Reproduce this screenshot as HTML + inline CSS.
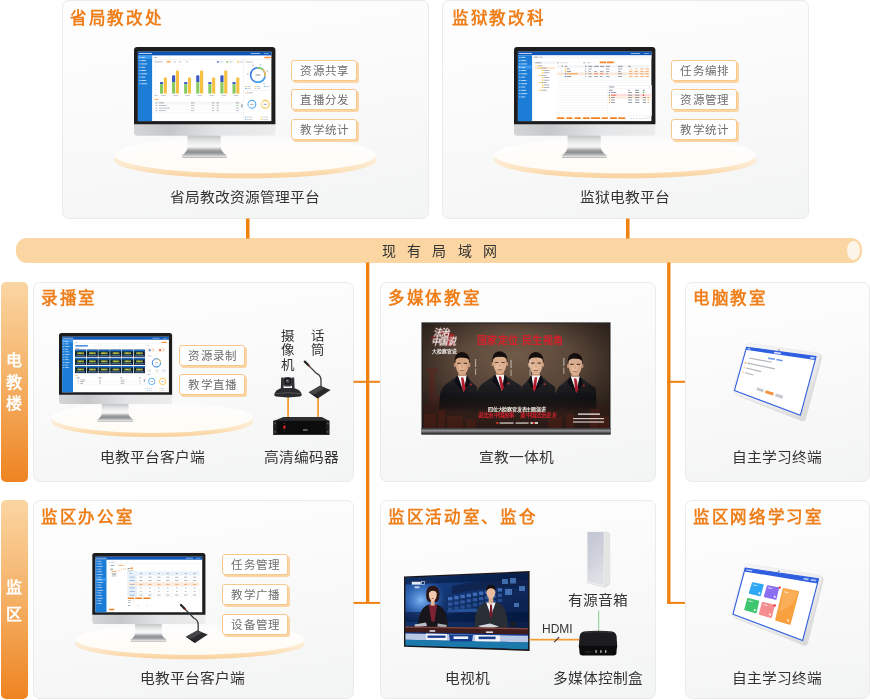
<!DOCTYPE html>
<html lang="zh-CN">
<head>
<meta charset="utf-8">
<title>电教平台网络拓扑图</title>
<style>
html,body{margin:0;padding:0;background:#fff;}
body{width:870px;height:700px;position:relative;overflow:hidden;font-family:"Liberation Sans",sans-serif;color:#333;}
.panel{position:absolute;box-sizing:border-box;border:1px solid #ebebeb;border-radius:7px;background:linear-gradient(170deg,#fefefe 0%,#fbfbfb 35%,#f3f4f4 100%);}
.title{position:absolute;font-size:16.5px;font-weight:bold;color:#ee7f1a;letter-spacing:1.7px;line-height:20px;white-space:nowrap;}
.lbl{position:absolute;font-size:14px;color:#333;line-height:18px;white-space:nowrap;text-align:center;transform:translateX(-50%) scaleX(1.055);letter-spacing:0.2px;padding-left:0.2px;}
.tag{position:absolute;box-sizing:border-box;width:66.3px;height:21.3px;border:1px solid #f8c78e;border-radius:3px;background:#fff;box-shadow:2px 2px 0 #fbd5a4;font-size:11.5px;line-height:21.6px;color:#6e6e6e;text-align:center;white-space:nowrap;letter-spacing:1.15px;padding-left:1.1px;}
.side{position:absolute;left:0.7px;width:26.9px;box-sizing:border-box;padding-top:1.2px;padding-right:0.6px;border-radius:5px;background:linear-gradient(180deg,#fad6a3 0%,#f5b46c 45%,#ee8420 100%);color:#fff;font-weight:bold;font-size:16px;text-align:center;display:flex;flex-direction:column;justify-content:center;align-items:center;}
.side span{display:block;}
.bar{position:absolute;left:15.5px;top:238.3px;width:846.3px;height:24.6px;border-radius:11px;background:#fbd6a2;}
.bar .cap{position:absolute;right:2px;top:2.4px;width:12.8px;height:19.6px;border-radius:50%;background:#fdf4e8;}
.bartxt{position:absolute;left:382.3px;top:240.6px;font-size:14px;line-height:20px;letter-spacing:11.2px;color:#333;white-space:nowrap;}
.vt{position:absolute;font-size:12.6px;line-height:14.3px;color:#333;width:14px;text-align:center;transform:scaleX(1.07);}
.hdmi{position:absolute;left:542px;top:622px;font-size:12px;line-height:14px;color:#333;}
svg{position:absolute;left:0;top:0;}
.title,.lbl,.tag,.side span,.bartxt,.vt,.hdmi,.tvt{will-change:transform;}
</style>
</head>
<body>
<div class="panel" style="left:62px;top:0px;width:366.6px;height:218.6px"></div>
<div class="panel" style="left:442px;top:0px;width:366.6px;height:218.6px"></div>
<div class="panel" style="left:33px;top:282px;width:321px;height:199.5px"></div>
<div class="panel" style="left:380px;top:282px;width:275.7px;height:199.5px"></div>
<div class="panel" style="left:685px;top:282px;width:184.5px;height:199.5px"></div>
<div class="panel" style="left:33px;top:500.3px;width:321px;height:199px"></div>
<div class="panel" style="left:380px;top:500.3px;width:275.7px;height:199px"></div>
<div class="panel" style="left:685px;top:500.3px;width:184.5px;height:199px"></div>
<div class="bar"><div class="cap"></div></div>
<div class="side" style="top:282px;height:199.5px;line-height:21.6px"><span>电</span><span>教</span><span>楼</span></div>
<div class="side" style="top:500.3px;height:199px;line-height:27.6px;padding-top:3.4px"><span>监</span><span>区</span></div>
<svg width="870" height="700" viewBox="0 0 870 700">
<defs>
<linearGradient id="chin" x1="0" y1="0" x2="1" y2="0">
 <stop offset="0" stop-color="#d4d5d6"/><stop offset="0.25" stop-color="#c6c7c9"/><stop offset="0.6" stop-color="#e4e5e6"/><stop offset="1" stop-color="#ececed"/>
</linearGradient>
<linearGradient id="neck" x1="0" y1="0" x2="0" y2="1">
 <stop offset="0" stop-color="#bdbec0"/><stop offset="0.45" stop-color="#e2e3e3"/><stop offset="0.85" stop-color="#f7f7f7"/><stop offset="1" stop-color="#eeeeee"/>
</linearGradient>
<linearGradient id="base" x1="0" y1="0" x2="0" y2="1">
 <stop offset="0" stop-color="#ececec"/><stop offset="0.28" stop-color="#a4a6a8"/><stop offset="0.48" stop-color="#8b8d90"/><stop offset="0.72" stop-color="#b4b6b7"/><stop offset="0.9" stop-color="#e6e6e6"/><stop offset="1" stop-color="#8f8f90"/>
</linearGradient>
<linearGradient id="platTop" x1="0" y1="0" x2="0" y2="1">
 <stop offset="0" stop-color="#ffffff" stop-opacity="0.35"/><stop offset="0.3" stop-color="#fffefd" stop-opacity="0.92"/><stop offset="1" stop-color="#fffcf6"/>
</linearGradient>
<linearGradient id="platRim" x1="0" y1="0" x2="0" y2="1">
 <stop offset="0" stop-color="#fdebd2" stop-opacity="0"/><stop offset="0.42" stop-color="#fde9cd" stop-opacity="0.9"/><stop offset="0.75" stop-color="#fce0ba"/><stop offset="1" stop-color="#fad29e"/>
</linearGradient>
<linearGradient id="platRimH" x1="0" y1="0" x2="1" y2="0">
 <stop offset="0" stop-color="#fff" stop-opacity="0.2"/><stop offset="0.2" stop-color="#fff" stop-opacity="0"/><stop offset="0.8" stop-color="#fff" stop-opacity="0"/><stop offset="1" stop-color="#fff" stop-opacity="0.2"/>
</linearGradient>
<filter id="b1" x="-10%" y="-10%" width="120%" height="120%"><feGaussianBlur stdDeviation="0.6"/></filter>
<filter id="b2" x="-10%" y="-10%" width="120%" height="120%"><feGaussianBlur stdDeviation="1.2"/></filter>
<filter id="b3" x="-20%" y="-20%" width="140%" height="140%"><feGaussianBlur stdDeviation="2.5"/></filter>
<radialGradient id="tv1bg" cx="0.5" cy="0.3" r="0.75">
 <stop offset="0" stop-color="#705a48"/><stop offset="0.5" stop-color="#574437"/><stop offset="1" stop-color="#3a2b23"/>
</radialGradient>
<linearGradient id="tv1bar" x1="0" y1="0" x2="0" y2="1">
 <stop offset="0" stop-color="#2a2a2c"/><stop offset="0.45" stop-color="#9a9a9c"/><stop offset="0.6" stop-color="#6a6a6c"/><stop offset="1" stop-color="#1c1c1e"/>
</linearGradient>
<linearGradient id="suit" gradientUnits="userSpaceOnUse" x1="0" y1="374" x2="0" y2="416">
 <stop offset="0" stop-color="#29292c"/><stop offset="0.45" stop-color="#19191b"/><stop offset="0.78" stop-color="#141416"/><stop offset="1" stop-color="#1c1412" stop-opacity="0"/>
</linearGradient>
<linearGradient id="tv1btm" gradientUnits="userSpaceOnUse" x1="0" y1="398" x2="0" y2="428">
 <stop offset="0" stop-color="#2a1a15" stop-opacity="0"/><stop offset="0.6" stop-color="#2e1c17" stop-opacity="0.75"/><stop offset="1" stop-color="#2a1915" stop-opacity="0.95"/>
</linearGradient>
<radialGradient id="tv1vig" cx="0.5" cy="0.42" r="0.72">
 <stop offset="0.45" stop-color="#000" stop-opacity="0"/><stop offset="1" stop-color="#000" stop-opacity="0.5"/>
</radialGradient>
<clipPath id="tv1clip"><rect x="422.6" y="323.5" width="187" height="104.6"/></clipPath>
<linearGradient id="tabBody" x1="0" y1="0" x2="1" y2="1">
 <stop offset="0" stop-color="#f7f7f7"/><stop offset="0.6" stop-color="#ececec"/><stop offset="1" stop-color="#d2d2d2"/>
</linearGradient>
<linearGradient id="tv2bg" x1="0" y1="0" x2="1" y2="1">
 <stop offset="0" stop-color="#1f4f9f"/><stop offset="0.35" stop-color="#12326c"/><stop offset="1" stop-color="#08173a"/>
</linearGradient>
<radialGradient id="tv2glow" cx="0.5" cy="0.5" r="0.5">
 <stop offset="0" stop-color="#86c0fb" stop-opacity="0.95"/><stop offset="0.5" stop-color="#4d8de0" stop-opacity="0.6"/><stop offset="1" stop-color="#2f6cc8" stop-opacity="0"/>
</radialGradient>
<clipPath id="tv2clip"><path d="M405.4 577.7 L528.2 572.6 L528.2 649.4 L405.4 645.4 Z"/></clipPath>
<linearGradient id="spk" x1="0" y1="0" x2="0.25" y2="1">
 <stop offset="0" stop-color="#c3c6d4"/><stop offset="0.55" stop-color="#cfd1db"/><stop offset="1" stop-color="#e0e1e6"/>
</linearGradient>
</defs>
<g fill="#f0830f">
<rect x="246" y="218.5" width="3.5" height="20"/>
<rect x="626" y="218.5" width="3.5" height="20"/>
<rect x="366" y="262.5" width="3.3" height="341"/>
<rect x="667.1" y="262.5" width="3.4" height="341"/>
<rect x="353.5" y="380.8" width="26.5" height="2"/>
<rect x="353.5" y="601.9" width="26.5" height="2"/>
<rect x="667.1" y="380.8" width="17.9" height="2"/>
<rect x="667.1" y="601.9" width="17.9" height="2"/>
</g>
<g>
<ellipse cx="245.4" cy="160" rx="131.3" ry="18.3" fill="url(#platRim)"/>
<ellipse cx="245.4" cy="160" rx="131.3" ry="18.3" fill="url(#platRimH)"/>
<ellipse cx="245.4" cy="155" rx="131" ry="18.3" fill="url(#platTop)"/>
</g>
<g>
<ellipse cx="625.4" cy="160" rx="131.3" ry="18.3" fill="url(#platRim)"/>
<ellipse cx="625.4" cy="160" rx="131.3" ry="18.3" fill="url(#platRimH)"/>
<ellipse cx="625.4" cy="155" rx="131" ry="18.3" fill="url(#platTop)"/>
</g>
<g>
<ellipse cx="152.2" cy="421.6" rx="100.7" ry="15.5" fill="url(#platRim)"/>
<ellipse cx="152.2" cy="421.6" rx="100.7" ry="15.5" fill="url(#platRimH)"/>
<ellipse cx="152.2" cy="417.4" rx="100.4" ry="15.5" fill="url(#platTop)"/>
</g>
<g>
<ellipse cx="190" cy="643.6" rx="114.9" ry="15.6" fill="url(#platRim)"/>
<ellipse cx="190" cy="643.6" rx="114.9" ry="15.6" fill="url(#platRimH)"/>
<ellipse cx="190" cy="639.2" rx="114.6" ry="15.6" fill="url(#platTop)"/>
</g>
<g transform="translate(134,46.9) scale(1)">
<rect x="53.5" y="88" width="33.3" height="12.6" fill="url(#neck)"/>
<path d="M53.5 100.3 L86.8 100.3 Q87.6 105.2 92.7 108.4 L92.7 110 Q92.7 110.9 91.5 110.9 L49.2 110.9 Q48 110.9 48 110 L48 108.4 Q52.8 105.2 53.5 100.3 Z" fill="url(#base)"/>
<path d="M0 70 H141.4 V85.4 Q141.4 88.9 137.9 88.9 H3.5 Q0 88.9 0 85.4 Z" fill="url(#chin)"/>
<path d="M3.2 0 H138.2 Q141.4 0 141.4 3.2 V77.3 H0 V3.2 Q0 0 3.2 0 Z" fill="#1d1d1f"/>
<g transform="translate(3.9,4.8)">
<rect x="0" y="0" width="133.5" height="69.4" fill="#fff"/>
<rect x="0" y="0" width="133.5" height="3.7" fill="#0b56b8"/>
<rect x="1" y="1.3" width="13" height="1" fill="#cfe2f8" opacity="0.9"/>
<rect x="113" y="1.4" width="9" height="0.9" fill="#cfe2f8" opacity="0.8"/>
<rect x="126" y="1.4" width="5" height="0.9" fill="#cfe2f8" opacity="0.6"/>
<rect x="0" y="3.7" width="14.2" height="65.7" fill="#1c7dd7"/>
<rect x="0" y="3.9" width="14.2" height="3.2" fill="#3d9af0"/>
<rect x="1.4" y="5.1" width="1.1" height="1.1" fill="#e6f1fd" opacity="0.9"/>
<rect x="3.3" y="5.2" width="4" height="0.9" fill="#e6f1fd" opacity="0.85"/>
<rect x="1.4" y="8.4" width="1.1" height="1.1" fill="#e6f1fd" opacity="0.9"/>
<rect x="3.3" y="8.5" width="5" height="0.9" fill="#e6f1fd" opacity="0.85"/>
<rect x="1.4" y="11.7" width="1.1" height="1.1" fill="#e6f1fd" opacity="0.9"/>
<rect x="3.3" y="11.8" width="6" height="0.9" fill="#e6f1fd" opacity="0.85"/>
<rect x="1.4" y="15" width="1.1" height="1.1" fill="#e6f1fd" opacity="0.9"/>
<rect x="3.3" y="15.1" width="4" height="0.9" fill="#e6f1fd" opacity="0.85"/>
<rect x="1.4" y="18.3" width="1.1" height="1.1" fill="#e6f1fd" opacity="0.9"/>
<rect x="3.3" y="18.4" width="5" height="0.9" fill="#e6f1fd" opacity="0.85"/>
<rect x="1.4" y="21.6" width="1.1" height="1.1" fill="#e6f1fd" opacity="0.9"/>
<rect x="3.3" y="21.7" width="6" height="0.9" fill="#e6f1fd" opacity="0.85"/>
<rect x="1.4" y="24.9" width="1.1" height="1.1" fill="#e6f1fd" opacity="0.9"/>
<rect x="3.3" y="25" width="4" height="0.9" fill="#e6f1fd" opacity="0.85"/>
<rect x="1.4" y="28.2" width="1.1" height="1.1" fill="#e6f1fd" opacity="0.9"/>
<rect x="3.3" y="28.3" width="5" height="0.9" fill="#e6f1fd" opacity="0.85"/>
<rect x="1.4" y="31.5" width="1.1" height="1.1" fill="#e6f1fd" opacity="0.9"/>
<rect x="3.3" y="31.6" width="6" height="0.9" fill="#e6f1fd" opacity="0.85"/>
<rect x="14.2" y="7.6" width="119.3" height="0.4" fill="#e3e6ea"/>
<rect x="16" y="5.3" width="3" height="0.8" fill="#9aa3ad"/>
<rect x="16.5" y="9.7" width="8" height="0.9" fill="#aab1b9"/>
<rect x="28.8" y="9.3" width="3.8" height="1.6" rx="0.5" fill="#f7a24a"/>
<rect x="35.5" y="9.7" width="2.6" height="0.9" fill="#c3c8ce"/>
<rect x="40.5" y="9.7" width="2.6" height="0.9" fill="#c3c8ce"/>
<rect x="48" y="9.7" width="2.6" height="0.9" fill="#c3c8ce"/>
<rect x="79.2" y="9.4" width="1.6" height="1.5" fill="#3a57c8"/>
<rect x="81.4" y="9.8" width="4.2" height="0.8" fill="#c3c8ce"/>
<rect x="88.5" y="9.4" width="1.6" height="1.5" fill="#7cc45a"/>
<rect x="90.7" y="9.8" width="4.2" height="0.8" fill="#c3c8ce"/>
<rect x="99.2" y="9.4" width="1.6" height="1.5" fill="#f7bf3d"/>
<rect x="101.4" y="9.8" width="4.2" height="0.8" fill="#c3c8ce"/>
<rect x="16.8" y="14.3" width="1" height="0.7" fill="#c9cdd2"/>
<rect x="16.8" y="18.9" width="1" height="0.7" fill="#c9cdd2"/>
<rect x="16.8" y="23.5" width="1" height="0.7" fill="#c9cdd2"/>
<rect x="16.8" y="28.1" width="1" height="0.7" fill="#c9cdd2"/>
<rect x="16.8" y="32.7" width="1" height="0.7" fill="#c9cdd2"/>
<rect x="16.8" y="37.3" width="1" height="0.7" fill="#c9cdd2"/>
<rect x="16.8" y="41.9" width="1" height="0.7" fill="#c9cdd2"/>
<rect x="22.1" y="30.4" width="3.1" height="2.2" fill="#3856c4"/>
<rect x="22.1" y="32.6" width="3.1" height="9.3" fill="#86c95f"/>
<rect x="25.9" y="25.9" width="3.1" height="16" fill="#f8c043"/>
<rect x="23.3" y="43.4" width="4.6" height="0.8" fill="#b8bec5"/>
<rect x="34.18" y="23.7" width="3.1" height="6.7" fill="#3856c4"/>
<rect x="34.18" y="30.4" width="3.1" height="11.5" fill="#86c95f"/>
<rect x="37.98" y="19" width="3.1" height="22.9" fill="#f8c043"/>
<rect x="35.38" y="43.4" width="4.6" height="0.8" fill="#b8bec5"/>
<rect x="46.26" y="30.4" width="3.1" height="2.2" fill="#3856c4"/>
<rect x="46.26" y="32.6" width="3.1" height="9.3" fill="#86c95f"/>
<rect x="50.06" y="25.9" width="3.1" height="16" fill="#f8c043"/>
<rect x="47.46" y="43.4" width="4.6" height="0.8" fill="#b8bec5"/>
<rect x="58.34" y="23.7" width="3.1" height="6.7" fill="#3856c4"/>
<rect x="58.34" y="30.4" width="3.1" height="11.5" fill="#86c95f"/>
<rect x="62.14" y="19" width="3.1" height="22.9" fill="#f8c043"/>
<rect x="59.54" y="43.4" width="4.6" height="0.8" fill="#b8bec5"/>
<rect x="70.42" y="30.4" width="3.1" height="2.2" fill="#3856c4"/>
<rect x="70.42" y="32.6" width="3.1" height="9.3" fill="#86c95f"/>
<rect x="74.22" y="25.9" width="3.1" height="16" fill="#f8c043"/>
<rect x="71.62" y="43.4" width="4.6" height="0.8" fill="#b8bec5"/>
<rect x="82.5" y="23.7" width="3.1" height="6.7" fill="#3856c4"/>
<rect x="82.5" y="30.4" width="3.1" height="11.5" fill="#86c95f"/>
<rect x="86.3" y="19" width="3.1" height="22.9" fill="#f8c043"/>
<rect x="83.7" y="43.4" width="4.6" height="0.8" fill="#b8bec5"/>
<rect x="94.58" y="30.4" width="3.1" height="2.2" fill="#3856c4"/>
<rect x="94.58" y="32.6" width="3.1" height="9.3" fill="#86c95f"/>
<rect x="98.38" y="25.9" width="3.1" height="16" fill="#f8c043"/>
<rect x="95.78" y="43.4" width="4.6" height="0.8" fill="#b8bec5"/>
<rect x="16.6" y="43.4" width="3.2" height="0.8" fill="#b8bec5"/>
<rect x="16.5" y="47.2" width="4" height="0.9" fill="#f3a24c"/>
<rect x="16.5" y="50" width="88" height="2.3" fill="#f4f6f8"/>
<rect x="17.5" y="50.8" width="2" height="0.8" fill="#8c949d" opacity="0.95"/>
<rect x="21" y="50.8" width="5" height="0.8" fill="#8c949d" opacity="0.95"/>
<rect x="53" y="50.8" width="3.5" height="0.8" fill="#8c949d" opacity="0.95"/>
<rect x="74" y="50.8" width="2.5" height="0.8" fill="#8c949d" opacity="0.95"/>
<rect x="78.5" y="50.8" width="2.5" height="0.8" fill="#8c949d" opacity="0.95"/>
<rect x="98" y="50.8" width="3" height="0.8" fill="#8c949d" opacity="0.95"/>
<rect x="16.5" y="52.5" width="88" height="0.3" fill="#e6e9ec"/>
<rect x="17.5" y="53.4" width="2" height="0.8" fill="#8c949d" opacity="0.7"/>
<rect x="21" y="53.4" width="8" height="0.8" fill="#8c949d" opacity="0.7"/>
<rect x="53" y="53.4" width="3.5" height="0.8" fill="#8c949d" opacity="0.7"/>
<rect x="74" y="53.4" width="2.5" height="0.8" fill="#8c949d" opacity="0.7"/>
<rect x="78.5" y="53.4" width="2.5" height="0.8" fill="#8c949d" opacity="0.7"/>
<rect x="98" y="53.4" width="3" height="0.8" fill="#7fcf6a" opacity="0.7"/>
<rect x="16.5" y="55.1" width="88" height="0.3" fill="#e6e9ec"/>
<rect x="17.5" y="56" width="2" height="0.8" fill="#8c949d" opacity="0.7"/>
<rect x="21" y="56" width="11" height="0.8" fill="#8c949d" opacity="0.7"/>
<rect x="53" y="56" width="3.5" height="0.8" fill="#8c949d" opacity="0.7"/>
<rect x="74" y="56" width="2.5" height="0.8" fill="#8c949d" opacity="0.7"/>
<rect x="78.5" y="56" width="2.5" height="0.8" fill="#8c949d" opacity="0.7"/>
<rect x="98" y="56" width="3" height="0.8" fill="#8c949d" opacity="0.7"/>
<rect x="16.5" y="57.7" width="88" height="0.3" fill="#e6e9ec"/>
<rect x="17.5" y="58.6" width="2" height="0.8" fill="#8c949d" opacity="0.7"/>
<rect x="21" y="58.6" width="7" height="0.8" fill="#8c949d" opacity="0.7"/>
<rect x="53" y="58.6" width="3.5" height="0.8" fill="#8c949d" opacity="0.7"/>
<rect x="74" y="58.6" width="2.5" height="0.8" fill="#8c949d" opacity="0.7"/>
<rect x="78.5" y="58.6" width="2.5" height="0.8" fill="#8c949d" opacity="0.7"/>
<rect x="98" y="58.6" width="3" height="0.8" fill="#8c949d" opacity="0.7"/>
<rect x="16.5" y="60.3" width="88" height="0.3" fill="#e6e9ec"/>
<rect x="103.6" y="52.5" width="0.8" height="3.4" fill="#555b62"/>
<rect x="105.1" y="8" width="0.4" height="61.4" fill="#e3e6ea"/>
<rect x="126.3" y="5.1" width="6.6" height="1.5" rx="0.4" fill="#f7913a"/>
<rect x="107.5" y="9.8" width="1" height="1" fill="#f7a24a"/><rect x="109" y="9.9" width="6" height="0.8" fill="#aab1b9"/>
<circle cx="120" cy="23.3" r="7.3" fill="none" stroke="#2f74e0" stroke-width="1.5"/>
<path d="M119.36 16.03 A7.3 7.3 0 0 1 125.16 18.14" fill="none" stroke="#8ed15c" stroke-width="1.5"/>
<path d="M125.16 18.14 A7.3 7.3 0 0 1 127.05 25.19" fill="none" stroke="#f8c645" stroke-width="1.5"/>
<path d="M127.05 25.19 A7.3 7.3 0 0 1 116.35 29.62" fill="none" stroke="#46a9f3" stroke-width="1.5"/>
<rect x="117.6" y="22.9" width="4.8" height="0.9" fill="#7d858e"/>
<rect x="114.2" y="12.8" width="1.6" height="1.6" fill="#b9bfc6" opacity="0.8"/>
<rect x="121.7" y="12.5" width="1.6" height="1.6" fill="#b9bfc6" opacity="0.8"/>
<rect x="128.6" y="18.6" width="1.6" height="1.6" fill="#b9bfc6" opacity="0.8"/>
<rect x="109" y="21.5" width="1.6" height="1.6" fill="#b9bfc6" opacity="0.8"/>
<rect x="125.4" y="31.2" width="1.6" height="1.6" fill="#b9bfc6" opacity="0.8"/>
<rect x="107.2" y="34.4" width="1.6" height="0.8" fill="#8ed15c"/><rect x="109.4" y="34.4" width="3.6" height="0.8" fill="#c3c8ce"/>
<rect x="116.6" y="34.4" width="1.6" height="0.8" fill="#f8c645"/><rect x="118.8" y="34.4" width="3.6" height="0.8" fill="#c3c8ce"/>
<rect x="126" y="34.4" width="1.6" height="0.8" fill="#46a9f3"/><rect x="128.2" y="34.4" width="3.6" height="0.8" fill="#c3c8ce"/>
<rect x="107.2" y="36.5" width="1.6" height="0.8" fill="#46a9f3"/><rect x="109.4" y="36.5" width="3.6" height="0.8" fill="#c3c8ce"/>
<rect x="116.6" y="36.5" width="1.6" height="0.8" fill="#c9ced4"/><rect x="118.8" y="36.5" width="3.6" height="0.8" fill="#c3c8ce"/>
<rect x="105.5" y="38.9" width="28" height="0.4" fill="#e3e6ea"/>
<rect x="107.5" y="40.7" width="1" height="1" fill="#f7a24a"/><rect x="109" y="40.8" width="6" height="0.8" fill="#aab1b9"/>
<circle cx="114" cy="52.6" r="3.9" fill="none" stroke="#4aa8f2" stroke-width="1.1"/>
<path d="M112.05 55.98 A3.9 3.9 0 0 1 110.34 51.27" fill="none" stroke="#bfe0fa" stroke-width="1.1"/>
<circle cx="127.4" cy="52.6" r="3.9" fill="none" stroke="#f7c546" stroke-width="1.1"/>
<path d="M124.02 54.55 A3.9 3.9 0 0 1 124.89 49.61" fill="none" stroke="#fbe5a8" stroke-width="1.1"/>
<rect x="112.4" y="52.2" width="3.2" height="0.8" fill="#8c949d"/><rect x="125.8" y="52.2" width="3.2" height="0.8" fill="#8c949d"/>
<rect x="107" y="65" width="1.4" height="0.8" fill="#46a9f3"/><rect x="109" y="65" width="5.5" height="0.8" fill="#c3c8ce"/>
<rect x="122.6" y="65" width="1.4" height="0.8" fill="#f8c645"/><rect x="124.6" y="65" width="5.5" height="0.8" fill="#c3c8ce"/>
<rect x="107" y="67.2" width="1.4" height="0.8" fill="#46a9f3"/><rect x="109" y="67.2" width="5.5" height="0.8" fill="#c3c8ce"/>
<rect x="122.6" y="67.2" width="1.4" height="0.8" fill="#f8c645"/><rect x="124.6" y="67.2" width="5.5" height="0.8" fill="#c3c8ce"/>
</g>
</g>
<g transform="translate(514,46.9) scale(1)">
<rect x="53.5" y="88" width="33.3" height="12.6" fill="url(#neck)"/>
<path d="M53.5 100.3 L86.8 100.3 Q87.6 105.2 92.7 108.4 L92.7 110 Q92.7 110.9 91.5 110.9 L49.2 110.9 Q48 110.9 48 110 L48 108.4 Q52.8 105.2 53.5 100.3 Z" fill="url(#base)"/>
<path d="M0 70 H141.4 V85.4 Q141.4 88.9 137.9 88.9 H3.5 Q0 88.9 0 85.4 Z" fill="url(#chin)"/>
<path d="M3.2 0 H138.2 Q141.4 0 141.4 3.2 V77.3 H0 V3.2 Q0 0 3.2 0 Z" fill="#1d1d1f"/>
<g transform="translate(3.9,4.8)">
<rect x="0" y="0" width="133.5" height="69.4" fill="#fff"/>
<rect x="0" y="0" width="133.5" height="3.7" fill="#0b56b8"/>
<rect x="1" y="1.3" width="13" height="1" fill="#cfe2f8" opacity="0.9"/>
<rect x="113" y="1.4" width="9" height="0.9" fill="#cfe2f8" opacity="0.8"/>
<rect x="126" y="1.4" width="5" height="0.9" fill="#cfe2f8" opacity="0.6"/>
<rect x="0" y="3.7" width="14.2" height="65.7" fill="#1c7dd7"/>
<rect x="0" y="13.8" width="14.2" height="3.2" fill="#3d9af0"/>
<rect x="1.4" y="5.1" width="1.1" height="1.1" fill="#e6f1fd" opacity="0.9"/>
<rect x="3.3" y="5.2" width="4" height="0.9" fill="#e6f1fd" opacity="0.85"/>
<rect x="1.4" y="8.4" width="1.1" height="1.1" fill="#e6f1fd" opacity="0.9"/>
<rect x="3.3" y="8.5" width="5" height="0.9" fill="#e6f1fd" opacity="0.85"/>
<rect x="1.4" y="11.7" width="1.1" height="1.1" fill="#e6f1fd" opacity="0.9"/>
<rect x="3.3" y="11.8" width="6" height="0.9" fill="#e6f1fd" opacity="0.85"/>
<rect x="1.4" y="15" width="1.1" height="1.1" fill="#e6f1fd" opacity="0.9"/>
<rect x="3.3" y="15.1" width="4" height="0.9" fill="#e6f1fd" opacity="0.85"/>
<rect x="1.4" y="18.3" width="1.1" height="1.1" fill="#e6f1fd" opacity="0.9"/>
<rect x="3.3" y="18.4" width="5" height="0.9" fill="#e6f1fd" opacity="0.85"/>
<rect x="1.4" y="21.6" width="1.1" height="1.1" fill="#e6f1fd" opacity="0.9"/>
<rect x="3.3" y="21.7" width="6" height="0.9" fill="#e6f1fd" opacity="0.85"/>
<rect x="1.4" y="24.9" width="1.1" height="1.1" fill="#e6f1fd" opacity="0.9"/>
<rect x="3.3" y="25" width="4" height="0.9" fill="#e6f1fd" opacity="0.85"/>
<rect x="1.4" y="28.2" width="1.1" height="1.1" fill="#e6f1fd" opacity="0.9"/>
<rect x="3.3" y="28.3" width="5" height="0.9" fill="#e6f1fd" opacity="0.85"/>
<rect x="1.4" y="31.5" width="1.1" height="1.1" fill="#e6f1fd" opacity="0.9"/>
<rect x="3.3" y="31.6" width="6" height="0.9" fill="#e6f1fd" opacity="0.85"/>
<rect x="1.4" y="34.8" width="1.1" height="1.1" fill="#e6f1fd" opacity="0.9"/>
<rect x="3.3" y="34.9" width="4" height="0.9" fill="#e6f1fd" opacity="0.85"/>
<rect x="1.4" y="38.1" width="1.1" height="1.1" fill="#e6f1fd" opacity="0.9"/>
<rect x="3.3" y="38.2" width="5" height="0.9" fill="#e6f1fd" opacity="0.85"/>
<rect x="1.4" y="41.4" width="1.1" height="1.1" fill="#e6f1fd" opacity="0.9"/>
<rect x="3.3" y="41.5" width="6" height="0.9" fill="#e6f1fd" opacity="0.85"/>
<rect x="1.4" y="44.7" width="1.1" height="1.1" fill="#e6f1fd" opacity="0.9"/>
<rect x="3.3" y="44.8" width="4" height="0.9" fill="#e6f1fd" opacity="0.85"/>
<rect x="14.2" y="3.7" width="119.3" height="3.4" fill="#f7f8fa"/>
<rect x="16" y="5" width="4" height="0.8" fill="#8c949d"/><rect x="21" y="5" width="4" height="0.8" fill="#b4bac1"/>
<rect x="16.2379" y="9.85172" width="21.0345" height="2.2" fill="#f1f3f5"/>
<rect x="17.4448" y="10.7138" width="6" height="0.8" fill="#8c949d"/>
<rect x="16.5828" y="15.369" width="20.6897" height="2.1" fill="#fde6cf"/>
<rect x="19.169" y="13.5621" width="1.5" height="1.2" fill="#f6c231"/>
<rect x="21.169" y="13.7621" width="3.5" height="0.8" fill="#9aa1a9"/>
<rect x="17.569" y="13.8621" width="0.7" height="0.7" fill="#f08a2c"/>
<rect x="22.2724" y="15.8034" width="1.5" height="1.2" fill="#f6c231"/>
<rect x="24.2724" y="16.0034" width="4.5" height="0.8" fill="#9aa1a9"/>
<rect x="20.6724" y="16.1034" width="0.7" height="0.7" fill="#f08a2c"/>
<rect x="23.9966" y="18.2172" width="1.5" height="1.2" fill="#f6c231"/>
<rect x="25.9966" y="18.4172" width="5.5" height="0.8" fill="#9aa1a9"/>
<rect x="23.9966" y="20.4586" width="1.5" height="1.2" fill="#f6c231"/>
<rect x="25.9966" y="20.6586" width="5.5" height="0.8" fill="#9aa1a9"/>
<rect x="22.2724" y="23.0448" width="1.5" height="1.2" fill="#f6c231"/>
<rect x="24.2724" y="23.2448" width="4.5" height="0.8" fill="#9aa1a9"/>
<rect x="20.6724" y="23.3448" width="0.7" height="0.7" fill="#f08a2c"/>
<rect x="23.9966" y="25.2862" width="1.5" height="1.2" fill="#f6c231"/>
<rect x="25.9966" y="25.4862" width="5.5" height="0.8" fill="#9aa1a9"/>
<rect x="23.9966" y="27.8724" width="1.5" height="1.2" fill="#f6c231"/>
<rect x="25.9966" y="28.0724" width="5.5" height="0.8" fill="#9aa1a9"/>
<rect x="22.2724" y="30.2862" width="1.5" height="1.2" fill="#f6c231"/>
<rect x="24.2724" y="30.4862" width="4.5" height="0.8" fill="#9aa1a9"/>
<rect x="20.6724" y="30.5862" width="0.7" height="0.7" fill="#f08a2c"/>
<rect x="23.9966" y="32.7" width="1.5" height="1.2" fill="#f6c231"/>
<rect x="25.9966" y="32.9" width="5.5" height="0.8" fill="#9aa1a9"/>
<rect x="23.9966" y="35.1138" width="1.5" height="1.2" fill="#f6c231"/>
<rect x="25.9966" y="35.3138" width="5.5" height="0.8" fill="#9aa1a9"/>
<rect x="22.2724" y="37.8724" width="1.5" height="1.2" fill="#f6c231"/>
<rect x="24.2724" y="38.0724" width="4.5" height="0.8" fill="#9aa1a9"/>
<rect x="20.6724" y="38.1724" width="0.7" height="0.7" fill="#f08a2c"/>
<rect x="38.9966" y="10.7138" width="2" height="0.8" fill="#8c949d"/><rect x="42.4448" y="10.7138" width="8" height="0.8" fill="#d0d4d9"/>
<rect x="65.3759" y="10.7138" width="2" height="0.8" fill="#8c949d"/><rect x="69.3414" y="10.7138" width="3" height="0.8" fill="#b4bac1"/>
<rect x="81.7552" y="9.67931" width="6.55172" height="1.9" rx="0.4" fill="#f58220"/>
<rect x="88.9966" y="9.67931" width="6.89655" height="1.9" rx="0.4" fill="#f58220"/>
<rect x="38.9966" y="13.3" width="92.4138" height="2.4" fill="#f3f5f7"/>
<rect x="43.4793" y="14.1621" width="1.37931" height="0.8" fill="#6f7780"/>
<rect x="46.9276" y="14.1621" width="2.41379" height="0.8" fill="#6f7780"/>
<rect x="67.1" y="14.1621" width="1.72414" height="0.8" fill="#6f7780"/>
<rect x="70.5483" y="14.1621" width="3.7931" height="0.8" fill="#6f7780"/>
<rect x="76.2379" y="14.1621" width="4.48276" height="0.8" fill="#6f7780"/>
<rect x="82.1" y="14.1621" width="4.13793" height="0.8" fill="#6f7780"/>
<rect x="87.9621" y="14.1621" width="4.13793" height="0.8" fill="#6f7780"/>
<rect x="100.031" y="14.1621" width="4.82759" height="0.8" fill="#6f7780"/>
<rect x="110.376" y="14.1621" width="2.41379" height="0.8" fill="#6f7780"/>
<rect x="43.4793" y="16.9655" width="0.6" height="0.6" fill="#b4bac1"/>
<rect x="46.9276" y="16.7155" width="1.5" height="1.1" fill="#f6c231"/>
<rect x="48.9966" y="16.8655" width="3" height="0.8" fill="#7d858e"/>
<rect x="67.1" y="16.8655" width="0.844828" height="0.8" fill="#7d858e" opacity="0.85"/>
<rect x="70.5483" y="16.8655" width="3.27586" height="0.8" fill="#7d858e" opacity="0.85"/>
<rect x="87.9621" y="16.8655" width="3.62069" height="0.8" fill="#7d858e" opacity="0.85"/>
<rect x="100.031" y="16.8655" width="4.31034" height="0.8" fill="#7d858e" opacity="0.85"/>
<rect x="111.066" y="16.8655" width="3.6" height="0.8" fill="#f39a4d" opacity="0.55"/>
<rect x="116.583" y="16.8655" width="3.6" height="0.8" fill="#f39a4d" opacity="0.55"/>
<rect x="122.272" y="16.8655" width="3.6" height="0.8" fill="#f39a4d" opacity="0.95"/>
<rect x="127.445" y="16.8655" width="3.6" height="0.8" fill="#f39a4d" opacity="0.95"/>
<rect x="43.4793" y="19.3793" width="0.6" height="0.6" fill="#b4bac1"/>
<rect x="46.9276" y="19.1293" width="1.5" height="1.1" fill="#f6c231"/>
<rect x="48.9966" y="19.2793" width="4.2" height="0.8" fill="#7d858e"/>
<rect x="67.1" y="19.2793" width="1.2069" height="0.8" fill="#7d858e" opacity="0.85"/>
<rect x="70.5483" y="19.2793" width="2.2931" height="0.8" fill="#7d858e" opacity="0.85"/>
<rect x="76.2379" y="19.2793" width="2.77586" height="0.8" fill="#7d858e" opacity="0.85"/>
<rect x="82.1" y="19.2793" width="3.62069" height="0.8" fill="#7d858e" opacity="0.85"/>
<rect x="87.9621" y="19.2793" width="3.62069" height="0.8" fill="#7d858e" opacity="0.85"/>
<rect x="100.031" y="19.2793" width="3.01724" height="0.8" fill="#7d858e" opacity="0.85"/>
<rect x="111.066" y="19.2793" width="3.6" height="0.8" fill="#f39a4d" opacity="0.95"/>
<rect x="116.583" y="19.2793" width="3.6" height="0.8" fill="#f39a4d" opacity="0.95"/>
<rect x="122.272" y="19.2793" width="3.6" height="0.8" fill="#f39a4d" opacity="0.95"/>
<rect x="127.445" y="19.2793" width="3.6" height="0.8" fill="#f39a4d" opacity="0.95"/>
<rect x="38.9966" y="20.8931" width="92.4138" height="2.4" fill="#fde9d6"/>
<rect x="43.4793" y="21.7931" width="0.6" height="0.6" fill="#b4bac1"/>
<rect x="46.9276" y="21.5431" width="1.5" height="1.1" fill="#5e7be0"/>
<rect x="48.9966" y="21.6931" width="11" height="0.8" fill="#f08a2c"/>
<rect x="67.1" y="21.6931" width="1.2069" height="0.8" fill="#7d858e" opacity="0.85"/>
<rect x="70.5483" y="21.6931" width="3.27586" height="0.8" fill="#7d858e" opacity="0.85"/>
<rect x="76.2379" y="21.6931" width="3.96552" height="0.8" fill="#e8563a" opacity="0.85"/>
<rect x="82.1" y="21.6931" width="3.62069" height="0.8" fill="#e8563a" opacity="0.85"/>
<rect x="87.9621" y="21.6931" width="2.53448" height="0.8" fill="#7d858e" opacity="0.85"/>
<rect x="100.031" y="21.6931" width="4.31034" height="0.8" fill="#7d858e" opacity="0.85"/>
<rect x="111.066" y="21.6931" width="3.6" height="0.8" fill="#f39a4d" opacity="0.95"/>
<rect x="116.583" y="21.6931" width="3.6" height="0.8" fill="#f39a4d" opacity="0.95"/>
<rect x="122.272" y="21.6931" width="3.6" height="0.8" fill="#f39a4d" opacity="0.95"/>
<rect x="127.445" y="21.6931" width="3.6" height="0.8" fill="#f39a4d" opacity="0.95"/>
<rect x="43.4793" y="24.3793" width="0.6" height="0.6" fill="#b4bac1"/>
<rect x="46.9276" y="24.1293" width="1.5" height="1.1" fill="#5e7be0"/>
<rect x="48.9966" y="24.2793" width="4.2" height="0.8" fill="#7d858e"/>
<rect x="67.1" y="24.2793" width="0.844828" height="0.8" fill="#7d858e" opacity="0.85"/>
<rect x="70.5483" y="24.2793" width="3.27586" height="0.8" fill="#7d858e" opacity="0.85"/>
<rect x="76.2379" y="24.2793" width="3.96552" height="0.8" fill="#7d858e" opacity="0.85"/>
<rect x="82.1" y="24.2793" width="2.53448" height="0.8" fill="#7d858e" opacity="0.85"/>
<rect x="87.9621" y="24.2793" width="3.62069" height="0.8" fill="#7d858e" opacity="0.85"/>
<rect x="100.031" y="24.2793" width="4.31034" height="0.8" fill="#7d858e" opacity="0.85"/>
<rect x="111.066" y="24.2793" width="3.6" height="0.8" fill="#f39a4d" opacity="0.95"/>
<rect x="116.583" y="24.2793" width="3.6" height="0.8" fill="#f39a4d" opacity="0.95"/>
<rect x="122.272" y="24.2793" width="3.6" height="0.8" fill="#f39a4d" opacity="0.95"/>
<rect x="127.445" y="24.2793" width="3.6" height="0.8" fill="#f39a4d" opacity="0.95"/>
<rect x="38.9966" y="15.8862" width="92.4138" height="0.3" fill="#e8eaed"/>
<rect x="38.9966" y="18.3862" width="92.4138" height="0.3" fill="#e8eaed"/>
<rect x="38.9966" y="20.8862" width="92.4138" height="0.3" fill="#e8eaed"/>
<rect x="38.9966" y="23.3862" width="92.4138" height="0.3" fill="#e8eaed"/>
<rect x="38.9966" y="25.8862" width="92.4138" height="0.3" fill="#e8eaed"/>
<rect x="38.9966" y="28.3862" width="92.4138" height="0.3" fill="#e8eaed"/>
<rect x="38.9966" y="30.8862" width="92.4138" height="0.3" fill="#e8eaed"/>
<rect x="38.9966" y="33.3862" width="92.4138" height="0.3" fill="#e8eaed"/>
<rect x="38.9966" y="35.8862" width="92.4138" height="0.3" fill="#e8eaed"/>
<rect x="38.9966" y="38.3862" width="92.4138" height="0.3" fill="#e8eaed"/>
<rect x="38.9966" y="40.8862" width="92.4138" height="0.3" fill="#e8eaed"/>
<rect x="38.9966" y="43.3862" width="92.4138" height="0.3" fill="#e8eaed"/>
<rect x="38.9966" y="45.8862" width="92.4138" height="0.3" fill="#e8eaed"/>
<rect x="38.9966" y="48.3862" width="92.4138" height="0.3" fill="#e8eaed"/>
<rect x="38.9966" y="50.8862" width="92.4138" height="0.3" fill="#e8eaed"/>
<rect x="38.9966" y="53.3862" width="92.4138" height="0.3" fill="#e8eaed"/>
<rect x="38.9966" y="55.8862" width="92.4138" height="0.3" fill="#e8eaed"/>
<rect x="38.9966" y="58.3862" width="92.4138" height="0.3" fill="#e8eaed"/>
<rect x="38.9966" y="60.8862" width="92.4138" height="0.3" fill="#e8eaed"/>
<rect x="38.9966" y="63.3862" width="92.4138" height="0.3" fill="#e8eaed"/>
<rect x="90.031" y="33.4724" width="43.7931" height="30.6897" fill="#fff" stroke="#dfe3e7" stroke-width="0.3"/>
<rect x="91.2379" y="34.8517" width="5" height="0.8" fill="#6f7780"/><rect x="130.893" y="34.8517" width="0.8" height="0.8" fill="#9aa1a9"/>
<rect x="90.031" y="36.4034" width="43.7931" height="0.3" fill="#e3e6ea"/>
<rect x="91.2379" y="38.1276" width="3.44828" height="0.8" fill="#6f7780"/>
<rect x="110.203" y="38.1276" width="1.72414" height="0.8" fill="#6f7780"/>
<rect x="117.1" y="38.1276" width="4.13793" height="0.8" fill="#6f7780"/>
<rect x="124.859" y="38.1276" width="2.06897" height="0.8" fill="#6f7780"/>
<circle cx="91.5828" cy="40.7138" r="0.55" fill="#4c6fe8"/>
<rect x="93.1345" y="40.3138" width="5.2" height="0.8" fill="#7d858e"/>
<rect x="110.203" y="40.3138" width="4" height="0.8" fill="#7d858e"/><rect x="117.1" y="40.3138" width="4.4" height="0.8" fill="#7d858e"/>
<rect x="124.859" y="40.0638" width="1.3" height="1.3" fill="#35c14a"/>
<rect x="90.031" y="42.3724" width="43.7931" height="2.2" fill="#fcdcdc"/>
<circle cx="91.5828" cy="43.4724" r="0.55" fill="#45c46a"/>
<rect x="93.1345" y="43.0724" width="5.2" height="0.8" fill="#e8563a"/>
<rect x="110.203" y="43.0724" width="4" height="0.8" fill="#7d858e"/><rect x="117.1" y="43.0724" width="4.4" height="0.8" fill="#7d858e"/>
<rect x="124.859" y="42.8224" width="1.3" height="1.3" fill="#e8232a"/>
<rect x="90.031" y="44.7862" width="43.7931" height="2.2" fill="#fdecdc"/>
<circle cx="91.5828" cy="45.8862" r="0.55" fill="#f58220"/>
<rect x="93.1345" y="45.4862" width="3.8" height="0.8" fill="#7d858e"/>
<rect x="110.203" y="45.4862" width="4" height="0.8" fill="#7d858e"/><rect x="117.1" y="45.4862" width="4.4" height="0.8" fill="#7d858e"/>
<rect x="124.859" y="45.4862" width="3.2" height="0.8" fill="#7d858e"/><rect x="129.686" y="45.4862" width="1.5" height="0.8" fill="#f39a4d"/>
<circle cx="91.5828" cy="48.3" r="0.55" fill="#f58220"/>
<rect x="93.1345" y="47.9" width="3.8" height="0.8" fill="#7d858e"/>
<rect x="110.203" y="47.9" width="4" height="0.8" fill="#7d858e"/><rect x="117.1" y="47.9" width="4.4" height="0.8" fill="#7d858e"/>
<rect x="124.859" y="47.9" width="3.2" height="0.8" fill="#7d858e"/><rect x="129.686" y="47.9" width="1.5" height="0.8" fill="#f39a4d"/>
<circle cx="91.5828" cy="50.7138" r="0.55" fill="#f58220"/>
<rect x="93.1345" y="50.3138" width="3.8" height="0.8" fill="#7d858e"/>
<rect x="110.203" y="50.3138" width="4" height="0.8" fill="#7d858e"/><rect x="117.1" y="50.3138" width="4.4" height="0.8" fill="#7d858e"/>
<rect x="124.859" y="50.3138" width="3.2" height="0.8" fill="#7d858e"/><rect x="129.686" y="50.3138" width="1.5" height="0.8" fill="#f39a4d"/>
<rect x="38.9966" y="65.5414" width="7.41379" height="1.8" rx="0.3" fill="#f58220"/>
<rect x="48.4793" y="65.5414" width="6.03448" height="1.8" rx="0.3" fill="#f58220"/>
<rect x="56.7552" y="65.5414" width="6.03448" height="1.8" rx="0.3" fill="#f58220"/>
<rect x="65.031" y="65.5414" width="6.72414" height="1.8" rx="0.3" fill="#f58220"/>
<rect x="73.1345" y="65.5414" width="8.96552" height="1.8" rx="0.3" fill="#f58220"/>
<rect x="83.8241" y="65.5414" width="6.2069" height="1.8" rx="0.3" fill="#f58220"/>
<rect x="92.1" y="65.5414" width="6.89655" height="1.8" rx="0.3" fill="#f58220"/>
<rect x="100.376" y="65.5414" width="6.89655" height="1.8" rx="0.3" fill="#f58220"/>
<rect x="112.79" y="66.231" width="1.2" height="0.8" fill="#b4bac1"/>
<rect x="115.376" y="66.231" width="1.2" height="0.8" fill="#b4bac1"/>
<rect x="118.479" y="66.231" width="1.2" height="0.8" fill="#b4bac1"/>
<rect x="121.41" y="66.231" width="1.2" height="0.8" fill="#b4bac1"/>
<rect x="123.997" y="66.231" width="1.2" height="0.8" fill="#b4bac1"/>
<rect x="126.583" y="66.231" width="1.2" height="0.8" fill="#b4bac1"/>
<rect x="129.341" y="65.7138" width="2" height="1.3" fill="none" stroke="#b4bac1" stroke-width="0.3"/>
</g>
</g>
<g transform="translate(59,332.9) scale(0.8)">
<rect x="53.5" y="88" width="33.3" height="12.6" fill="url(#neck)"/>
<path d="M53.5 100.3 L86.8 100.3 Q87.6 105.2 92.7 108.4 L92.7 110 Q92.7 110.9 91.5 110.9 L49.2 110.9 Q48 110.9 48 110 L48 108.4 Q52.8 105.2 53.5 100.3 Z" fill="url(#base)"/>
<path d="M0 70 H141.4 V85.4 Q141.4 88.9 137.9 88.9 H3.5 Q0 88.9 0 85.4 Z" fill="url(#chin)"/>
<path d="M3.2 0 H138.2 Q141.4 0 141.4 3.2 V77.3 H0 V3.2 Q0 0 3.2 0 Z" fill="#1d1d1f"/>
<g transform="translate(3.9,4.8)">
<rect x="0" y="0" width="133.5" height="69.4" fill="#fff"/>
<rect x="0" y="0" width="133.5" height="3.7" fill="#0b56b8"/>
<rect x="1" y="1.3" width="13" height="1" fill="#cfe2f8" opacity="0.9"/>
<rect x="113" y="1.4" width="9" height="0.9" fill="#cfe2f8" opacity="0.8"/>
<rect x="126" y="1.4" width="5" height="0.9" fill="#cfe2f8" opacity="0.6"/>
<rect x="0" y="3.7" width="13.6" height="65.7" fill="#1c7dd7"/>
<rect x="0" y="3.9" width="13.6" height="3.2" fill="#3d9af0"/>
<rect x="1.4" y="5.1" width="1.1" height="1.1" fill="#e6f1fd" opacity="0.9"/>
<rect x="3.3" y="5.2" width="4" height="0.9" fill="#e6f1fd" opacity="0.85"/>
<rect x="1.4" y="8.4" width="1.1" height="1.1" fill="#e6f1fd" opacity="0.9"/>
<rect x="3.3" y="8.5" width="5" height="0.9" fill="#e6f1fd" opacity="0.85"/>
<rect x="1.4" y="11.7" width="1.1" height="1.1" fill="#e6f1fd" opacity="0.9"/>
<rect x="3.3" y="11.8" width="6" height="0.9" fill="#e6f1fd" opacity="0.85"/>
<rect x="1.4" y="15" width="1.1" height="1.1" fill="#e6f1fd" opacity="0.9"/>
<rect x="3.3" y="15.1" width="4" height="0.9" fill="#e6f1fd" opacity="0.85"/>
<rect x="1.4" y="18.3" width="1.1" height="1.1" fill="#e6f1fd" opacity="0.9"/>
<rect x="3.3" y="18.4" width="5" height="0.9" fill="#e6f1fd" opacity="0.85"/>
<rect x="1.4" y="21.6" width="1.1" height="1.1" fill="#e6f1fd" opacity="0.9"/>
<rect x="3.3" y="21.7" width="6" height="0.9" fill="#e6f1fd" opacity="0.85"/>
<rect x="1.4" y="24.9" width="1.1" height="1.1" fill="#e6f1fd" opacity="0.9"/>
<rect x="3.3" y="25" width="4" height="0.9" fill="#e6f1fd" opacity="0.85"/>
<rect x="1.4" y="28.2" width="1.1" height="1.1" fill="#e6f1fd" opacity="0.9"/>
<rect x="3.3" y="28.3" width="5" height="0.9" fill="#e6f1fd" opacity="0.85"/>
<rect x="1.4" y="31.5" width="1.1" height="1.1" fill="#e6f1fd" opacity="0.9"/>
<rect x="3.3" y="31.6" width="6" height="0.9" fill="#e6f1fd" opacity="0.85"/>
<rect x="1.4" y="34.8" width="1.1" height="1.1" fill="#e6f1fd" opacity="0.9"/>
<rect x="3.3" y="34.9" width="4" height="0.9" fill="#e6f1fd" opacity="0.85"/>
<rect x="1.4" y="38.1" width="1.1" height="1.1" fill="#e6f1fd" opacity="0.9"/>
<rect x="3.3" y="38.2" width="5" height="0.9" fill="#e6f1fd" opacity="0.85"/>
<rect x="16.6607" y="6.74107" width="2" height="0.8" fill="#9aa3ad"/>
<rect x="13.6" y="8.70536" width="120" height="0.35" fill="#e3e6ea"/>
<rect x="16.4821" y="10.4911" width="15.7143" height="1.7" rx="0.3" fill="#1a76d2"/>
<rect x="39.6964" y="11.2054" width="2.2" height="0.8" fill="#c9d9ee"/>
<rect x="47.375" y="11.2054" width="2.2" height="0.8" fill="#c9d9ee"/>
<rect x="55.4107" y="11.2054" width="2.2" height="0.8" fill="#c9d9ee"/>
<rect x="63.4464" y="11.2054" width="2.2" height="0.8" fill="#c9d9ee"/>
<rect x="70.9464" y="11.2054" width="2.2" height="0.8" fill="#c9d9ee"/>
<rect x="79.1607" y="11.2054" width="2.2" height="0.8" fill="#c9d9ee"/>
<rect x="16.4821" y="14.4196" width="5" height="0.8" fill="#9aa3ad"/>
<rect x="16.125" y="16.2054" width="13.75" height="8.92857" fill="#0b1a33"/>
<rect x="16.125" y="16.2054" width="13.75" height="2.14286" fill="#1d6abb"/>
<rect x="16.125" y="18.3482" width="1.65" height="4.46429" fill="#14472f" opacity="0.8"/>
<rect x="17.5" y="22.6339" width="11" height="1.78571" fill="#55779a" opacity="0.85"/>
<rect x="18.875" y="19.4196" width="8.525" height="2.41071" fill="#a5ad3a" opacity="0.95"/>
<rect x="20.8" y="19.9554" width="2.75" height="1.25" fill="#d3d85a" opacity="0.8"/>
<rect x="30.8393" y="16.2054" width="13.75" height="8.92857" fill="#0b1a33"/>
<rect x="30.8393" y="16.2054" width="13.75" height="2.14286" fill="#1d6abb"/>
<rect x="30.8393" y="18.3482" width="1.65" height="4.46429" fill="#14472f" opacity="0.8"/>
<rect x="32.2143" y="22.6339" width="11" height="1.78571" fill="#55779a" opacity="0.85"/>
<rect x="33.5893" y="19.4196" width="8.525" height="2.41071" fill="#a5ad3a" opacity="0.95"/>
<rect x="35.5143" y="19.9554" width="2.75" height="1.25" fill="#d3d85a" opacity="0.8"/>
<rect x="45.5536" y="16.2054" width="13.75" height="8.92857" fill="#0b1a33"/>
<rect x="45.5536" y="16.2054" width="13.75" height="2.14286" fill="#1d6abb"/>
<rect x="45.5536" y="18.3482" width="1.65" height="4.46429" fill="#14472f" opacity="0.8"/>
<rect x="46.9286" y="22.6339" width="11" height="1.78571" fill="#55779a" opacity="0.85"/>
<rect x="48.3036" y="19.4196" width="8.525" height="2.41071" fill="#a5ad3a" opacity="0.95"/>
<rect x="50.2286" y="19.9554" width="2.75" height="1.25" fill="#d3d85a" opacity="0.8"/>
<rect x="60.2679" y="16.2054" width="13.75" height="8.92857" fill="#0b1a33"/>
<rect x="60.2679" y="16.2054" width="13.75" height="2.14286" fill="#1d6abb"/>
<rect x="60.2679" y="18.3482" width="1.65" height="4.46429" fill="#14472f" opacity="0.8"/>
<rect x="61.6429" y="22.6339" width="11" height="1.78571" fill="#55779a" opacity="0.85"/>
<rect x="63.0179" y="19.4196" width="8.525" height="2.41071" fill="#a5ad3a" opacity="0.95"/>
<rect x="64.9429" y="19.9554" width="2.75" height="1.25" fill="#d3d85a" opacity="0.8"/>
<rect x="74.9821" y="16.2054" width="13.75" height="8.92857" fill="#0b1a33"/>
<rect x="74.9821" y="16.2054" width="13.75" height="2.14286" fill="#1d6abb"/>
<rect x="74.9821" y="18.3482" width="1.65" height="4.46429" fill="#14472f" opacity="0.8"/>
<rect x="76.3571" y="22.6339" width="11" height="1.78571" fill="#55779a" opacity="0.85"/>
<rect x="77.7321" y="19.4196" width="8.525" height="2.41071" fill="#a5ad3a" opacity="0.95"/>
<rect x="79.6571" y="19.9554" width="2.75" height="1.25" fill="#d3d85a" opacity="0.8"/>
<rect x="89.6964" y="16.2054" width="13.75" height="8.92857" fill="#0b1a33"/>
<rect x="89.6964" y="16.2054" width="13.75" height="2.14286" fill="#1d6abb"/>
<rect x="89.6964" y="18.3482" width="1.65" height="4.46429" fill="#14472f" opacity="0.8"/>
<rect x="91.0714" y="22.6339" width="11" height="1.78571" fill="#55779a" opacity="0.85"/>
<rect x="92.4464" y="19.4196" width="8.525" height="2.41071" fill="#a5ad3a" opacity="0.95"/>
<rect x="94.3714" y="19.9554" width="2.75" height="1.25" fill="#d3d85a" opacity="0.8"/>
<rect x="16.125" y="26.3839" width="13.75" height="8.92857" fill="#0b1a33"/>
<rect x="16.125" y="26.3839" width="13.75" height="2.14286" fill="#1d6abb"/>
<rect x="16.125" y="28.5268" width="1.65" height="4.46429" fill="#14472f" opacity="0.8"/>
<rect x="17.5" y="32.8125" width="11" height="1.78571" fill="#55779a" opacity="0.85"/>
<rect x="18.875" y="29.5982" width="8.525" height="2.41071" fill="#a5ad3a" opacity="0.95"/>
<rect x="20.8" y="30.1339" width="2.75" height="1.25" fill="#d3d85a" opacity="0.8"/>
<rect x="30.8393" y="26.3839" width="13.75" height="8.92857" fill="#0b1a33"/>
<rect x="30.8393" y="26.3839" width="13.75" height="2.14286" fill="#1d6abb"/>
<rect x="30.8393" y="28.5268" width="1.65" height="4.46429" fill="#14472f" opacity="0.8"/>
<rect x="32.2143" y="32.8125" width="11" height="1.78571" fill="#55779a" opacity="0.85"/>
<rect x="33.5893" y="29.5982" width="8.525" height="2.41071" fill="#a5ad3a" opacity="0.95"/>
<rect x="35.5143" y="30.1339" width="2.75" height="1.25" fill="#d3d85a" opacity="0.8"/>
<rect x="45.5536" y="26.3839" width="13.75" height="8.92857" fill="#0b1a33"/>
<rect x="45.5536" y="26.3839" width="13.75" height="2.14286" fill="#1d6abb"/>
<rect x="45.5536" y="28.5268" width="1.65" height="4.46429" fill="#14472f" opacity="0.8"/>
<rect x="46.9286" y="32.8125" width="11" height="1.78571" fill="#55779a" opacity="0.85"/>
<rect x="48.3036" y="29.5982" width="8.525" height="2.41071" fill="#a5ad3a" opacity="0.95"/>
<rect x="50.2286" y="30.1339" width="2.75" height="1.25" fill="#d3d85a" opacity="0.8"/>
<rect x="60.2679" y="26.3839" width="13.75" height="8.92857" fill="#0b1a33"/>
<rect x="60.2679" y="26.3839" width="13.75" height="2.14286" fill="#1d6abb"/>
<rect x="60.2679" y="28.5268" width="1.65" height="4.46429" fill="#14472f" opacity="0.8"/>
<rect x="61.6429" y="32.8125" width="11" height="1.78571" fill="#55779a" opacity="0.85"/>
<rect x="63.0179" y="29.5982" width="8.525" height="2.41071" fill="#a5ad3a" opacity="0.95"/>
<rect x="64.9429" y="30.1339" width="2.75" height="1.25" fill="#d3d85a" opacity="0.8"/>
<rect x="74.9821" y="26.3839" width="13.75" height="8.92857" fill="#0b1a33"/>
<rect x="74.9821" y="26.3839" width="13.75" height="2.14286" fill="#1d6abb"/>
<rect x="74.9821" y="28.5268" width="1.65" height="4.46429" fill="#14472f" opacity="0.8"/>
<rect x="76.3571" y="32.8125" width="11" height="1.78571" fill="#55779a" opacity="0.85"/>
<rect x="77.7321" y="29.5982" width="8.525" height="2.41071" fill="#a5ad3a" opacity="0.95"/>
<rect x="79.6571" y="30.1339" width="2.75" height="1.25" fill="#d3d85a" opacity="0.8"/>
<rect x="89.6964" y="26.3839" width="13.75" height="8.92857" fill="#0b1a33"/>
<rect x="89.6964" y="26.3839" width="13.75" height="2.14286" fill="#1d6abb"/>
<rect x="89.6964" y="28.5268" width="1.65" height="4.46429" fill="#14472f" opacity="0.8"/>
<rect x="91.0714" y="32.8125" width="11" height="1.78571" fill="#55779a" opacity="0.85"/>
<rect x="92.4464" y="29.5982" width="8.525" height="2.41071" fill="#a5ad3a" opacity="0.95"/>
<rect x="94.3714" y="30.1339" width="2.75" height="1.25" fill="#d3d85a" opacity="0.8"/>
<rect x="16.125" y="36.5625" width="13.75" height="8.92857" fill="#0b1a33"/>
<rect x="16.125" y="36.5625" width="13.75" height="2.14286" fill="#1d6abb"/>
<rect x="16.125" y="38.7054" width="1.65" height="4.46429" fill="#14472f" opacity="0.8"/>
<rect x="17.5" y="42.9911" width="11" height="1.78571" fill="#55779a" opacity="0.85"/>
<rect x="18.875" y="39.7768" width="8.525" height="2.41071" fill="#a5ad3a" opacity="0.95"/>
<rect x="20.8" y="40.3125" width="2.75" height="1.25" fill="#d3d85a" opacity="0.8"/>
<rect x="30.8393" y="36.5625" width="13.75" height="8.92857" fill="#0b1a33"/>
<rect x="30.8393" y="36.5625" width="13.75" height="2.14286" fill="#1d6abb"/>
<rect x="30.8393" y="38.7054" width="1.65" height="4.46429" fill="#14472f" opacity="0.8"/>
<rect x="32.2143" y="42.9911" width="11" height="1.78571" fill="#55779a" opacity="0.85"/>
<rect x="33.5893" y="39.7768" width="8.525" height="2.41071" fill="#a5ad3a" opacity="0.95"/>
<rect x="35.5143" y="40.3125" width="2.75" height="1.25" fill="#d3d85a" opacity="0.8"/>
<rect x="45.5536" y="36.5625" width="13.75" height="8.92857" fill="#0b1a33"/>
<rect x="45.5536" y="36.5625" width="13.75" height="2.14286" fill="#1d6abb"/>
<rect x="45.5536" y="38.7054" width="1.65" height="4.46429" fill="#14472f" opacity="0.8"/>
<rect x="46.9286" y="42.9911" width="11" height="1.78571" fill="#55779a" opacity="0.85"/>
<rect x="48.3036" y="39.7768" width="8.525" height="2.41071" fill="#a5ad3a" opacity="0.95"/>
<rect x="50.2286" y="40.3125" width="2.75" height="1.25" fill="#d3d85a" opacity="0.8"/>
<rect x="60.2679" y="36.5625" width="13.75" height="8.92857" fill="#0b1a33"/>
<rect x="60.2679" y="36.5625" width="13.75" height="2.14286" fill="#1d6abb"/>
<rect x="60.2679" y="38.7054" width="1.65" height="4.46429" fill="#14472f" opacity="0.8"/>
<rect x="61.6429" y="42.9911" width="11" height="1.78571" fill="#55779a" opacity="0.85"/>
<rect x="63.0179" y="39.7768" width="8.525" height="2.41071" fill="#a5ad3a" opacity="0.95"/>
<rect x="64.9429" y="40.3125" width="2.75" height="1.25" fill="#d3d85a" opacity="0.8"/>
<rect x="74.9821" y="36.5625" width="13.75" height="8.92857" fill="#0b1a33"/>
<rect x="74.9821" y="36.5625" width="13.75" height="2.14286" fill="#1d6abb"/>
<rect x="74.9821" y="38.7054" width="1.65" height="4.46429" fill="#14472f" opacity="0.8"/>
<rect x="76.3571" y="42.9911" width="11" height="1.78571" fill="#55779a" opacity="0.85"/>
<rect x="77.7321" y="39.7768" width="8.525" height="2.41071" fill="#a5ad3a" opacity="0.95"/>
<rect x="79.6571" y="40.3125" width="2.75" height="1.25" fill="#d3d85a" opacity="0.8"/>
<rect x="89.6964" y="36.5625" width="13.75" height="8.92857" fill="#0b1a33"/>
<rect x="89.6964" y="36.5625" width="13.75" height="2.14286" fill="#1d6abb"/>
<rect x="89.6964" y="38.7054" width="1.65" height="4.46429" fill="#14472f" opacity="0.8"/>
<rect x="91.0714" y="42.9911" width="11" height="1.78571" fill="#55779a" opacity="0.85"/>
<rect x="92.4464" y="39.7768" width="8.525" height="2.41071" fill="#a5ad3a" opacity="0.95"/>
<rect x="94.3714" y="40.3125" width="2.75" height="1.25" fill="#d3d85a" opacity="0.8"/>
<rect x="16.4821" y="47.8125" width="3" height="0.8" fill="#f3a24c"/>
<rect x="17.9107" y="51.0268" width="4" height="0.8" fill="#6f7780"/>
<rect x="45.5893" y="51.0268" width="3.5" height="0.8" fill="#6f7780"/>
<rect x="72.7321" y="51.0268" width="2.5" height="0.8" fill="#6f7780"/>
<rect x="96.4821" y="51.0268" width="2" height="0.8" fill="#6f7780"/>
<rect x="19.6964" y="53.7054" width="1.2" height="0.8" fill="#9aa1a9"/><rect x="22.7321" y="53.7054" width="6" height="0.8" fill="#8c949d"/>
<rect x="46.4821" y="53.7054" width="2" height="0.8" fill="#9aa1a9"/><rect x="73.2679" y="53.7054" width="4.5" height="0.8" fill="#9aa1a9"/>
<rect x="96.4821" y="53.7054" width="1.6" height="0.8" fill="#7fcf6a"/>
<rect x="16.4821" y="55.1054" width="86.25" height="0.3" fill="#e8eaed"/>
<rect x="19.6964" y="55.8482" width="1.2" height="0.8" fill="#9aa1a9"/><rect x="22.7321" y="55.8482" width="4.7" height="0.8" fill="#8c949d"/>
<rect x="46.4821" y="55.8482" width="2" height="0.8" fill="#9aa1a9"/><rect x="73.2679" y="55.8482" width="4.5" height="0.8" fill="#9aa1a9"/>
<rect x="96.4821" y="55.8482" width="1.6" height="0.8" fill="#b4bac1"/>
<rect x="16.4821" y="57.2482" width="86.25" height="0.3" fill="#e8eaed"/>
<rect x="19.6964" y="57.9911" width="1.2" height="0.8" fill="#9aa1a9"/><rect x="22.7321" y="57.9911" width="3.4" height="0.8" fill="#8c949d"/>
<rect x="46.4821" y="57.9911" width="2" height="0.8" fill="#9aa1a9"/><rect x="73.2679" y="57.9911" width="4.5" height="0.8" fill="#9aa1a9"/>
<rect x="96.4821" y="57.9911" width="1.6" height="0.8" fill="#b4bac1"/>
<rect x="16.4821" y="59.3911" width="86.25" height="0.3" fill="#e8eaed"/>
<rect x="102.196" y="53.1696" width="0.9" height="3" fill="#555b62"/>
<rect x="104.518" y="3.7" width="0.4" height="65.7" fill="#e3e6ea"/>
<rect x="124.161" y="6.20536" width="6.6" height="1.6" rx="0.4" fill="#f7913a"/>
<rect x="106.661" y="10.4911" width="2" height="0.8" fill="#aab1b9"/>
<rect x="106.304" y="13.3482" width="8.4" height="6" rx="0.6" fill="#fdf3e6"/><circle cx="109.518" cy="16.7411" r="1.3" fill="#4b8df0"/>
<rect x="113.446" y="14.7768" width="1.4" height="2.6" fill="#f7c08a"/>
<rect x="119.339" y="13.3482" width="8.4" height="6" rx="0.6" fill="#fdf3e6"/><circle cx="122.375" cy="16.7411" r="1.3" fill="#f0605a"/>
<rect x="126.304" y="14.7768" width="1.4" height="2.6" fill="#f7c08a"/>
<rect x="106.661" y="23.7054" width="5" height="0.8" fill="#aab1b9"/>
<circle cx="117.911" cy="32.6339" r="5.2" fill="none" stroke="#2f74e0" stroke-width="1.2"/>
<path d="M120.511 28.1339 A5.2 5.2 0 0 1 123.111 32.6339" fill="none" stroke="#f8c645" stroke-width="1.2"/>
<path d="M117.911 27.4339 A5.2 5.2 0 0 1 120.511 28.1339" fill="none" stroke="#8ed15c" stroke-width="1.2"/>
<path d="M123.111 32.6339 A5.2 5.2 0 0 1 117.911 37.8339" fill="none" stroke="#46a9f3" stroke-width="1.2"/>
<rect x="116.211" y="32.2339" width="3.4" height="0.8" fill="#7d858e"/>
<rect x="106.661" y="41.2054" width="1.2" height="0.8" fill="#8ed15c"/><rect x="108.461" y="41.2054" width="3" height="0.8" fill="#c3c8ce"/>
<rect x="106.661" y="42.9911" width="1.2" height="0.8" fill="#8ed15c" opacity="0.6"/><rect x="108.461" y="42.9911" width="2.4" height="0.8" fill="#c3c8ce"/>
<rect x="116.125" y="41.2054" width="1.2" height="0.8" fill="#f8c645"/><rect x="117.925" y="41.2054" width="3" height="0.8" fill="#c3c8ce"/>
<rect x="116.125" y="42.9911" width="1.2" height="0.8" fill="#f8c645" opacity="0.6"/><rect x="117.925" y="42.9911" width="2.4" height="0.8" fill="#c3c8ce"/>
<rect x="125.054" y="41.2054" width="1.2" height="0.8" fill="#46a9f3"/><rect x="126.854" y="41.2054" width="3" height="0.8" fill="#c3c8ce"/>
<rect x="125.054" y="42.9911" width="1.2" height="0.8" fill="#46a9f3" opacity="0.6"/><rect x="126.854" y="42.9911" width="2.4" height="0.8" fill="#c3c8ce"/>
<rect x="104.875" y="45.3125" width="24" height="0.35" fill="#e3e6ea"/>
<rect x="106.661" y="47.0982" width="4" height="0.8" fill="#aab1b9"/>
<circle cx="112.018" cy="55.8482" r="4" fill="none" stroke="#4aa8f2" stroke-width="1.1"/>
<circle cx="125.589" cy="55.8482" r="4" fill="none" stroke="#f7c546" stroke-width="1.1"/>
<rect x="110.518" y="55.4482" width="3" height="0.8" fill="#8c949d"/><rect x="124.089" y="55.4482" width="3" height="0.8" fill="#8c949d"/>
<rect x="106.304" y="64.4196" width="1.2" height="0.8" fill="#46a9f3"/><rect x="108.104" y="64.4196" width="4" height="0.8" fill="#c3c8ce"/>
<rect x="121.482" y="64.4196" width="1.2" height="0.8" fill="#f8c645"/><rect x="123.282" y="64.4196" width="4" height="0.8" fill="#c3c8ce"/>
<rect x="106.304" y="66.5625" width="1.2" height="0.8" fill="#46a9f3"/><rect x="108.104" y="66.5625" width="4" height="0.8" fill="#c3c8ce"/>
<rect x="121.482" y="66.5625" width="1.2" height="0.8" fill="#f8c645"/><rect x="123.282" y="66.5625" width="4" height="0.8" fill="#c3c8ce"/>
</g>
</g>
<g transform="translate(92.3,552.9) scale(0.8)">
<rect x="53.5" y="88" width="33.3" height="12.6" fill="url(#neck)"/>
<path d="M53.5 100.3 L86.8 100.3 Q87.6 105.2 92.7 108.4 L92.7 110 Q92.7 110.9 91.5 110.9 L49.2 110.9 Q48 110.9 48 110 L48 108.4 Q52.8 105.2 53.5 100.3 Z" fill="url(#base)"/>
<path d="M0 70 H141.4 V85.4 Q141.4 88.9 137.9 88.9 H3.5 Q0 88.9 0 85.4 Z" fill="url(#chin)"/>
<path d="M3.2 0 H138.2 Q141.4 0 141.4 3.2 V77.3 H0 V3.2 Q0 0 3.2 0 Z" fill="#1d1d1f"/>
<g transform="translate(3.9,4.8)">
<rect x="0" y="0" width="133.5" height="69.4" fill="#fff"/>
<rect x="0" y="0" width="133.5" height="3.7" fill="#0b56b8"/>
<rect x="1" y="1.3" width="13" height="1" fill="#cfe2f8" opacity="0.9"/>
<rect x="113" y="1.4" width="9" height="0.9" fill="#cfe2f8" opacity="0.8"/>
<rect x="126" y="1.4" width="5" height="0.9" fill="#cfe2f8" opacity="0.6"/>
<rect x="0" y="3.7" width="13.8" height="65.7" fill="#1c7dd7"/>
<rect x="0" y="27" width="13.8" height="3.2" fill="#3d9af0"/>
<rect x="1.4" y="5.1" width="1.1" height="1.1" fill="#e6f1fd" opacity="0.9"/>
<rect x="3.3" y="5.2" width="4" height="0.9" fill="#e6f1fd" opacity="0.85"/>
<rect x="1.4" y="8.4" width="1.1" height="1.1" fill="#e6f1fd" opacity="0.9"/>
<rect x="3.3" y="8.5" width="5" height="0.9" fill="#e6f1fd" opacity="0.85"/>
<rect x="1.4" y="11.7" width="1.1" height="1.1" fill="#e6f1fd" opacity="0.9"/>
<rect x="3.3" y="11.8" width="6" height="0.9" fill="#e6f1fd" opacity="0.85"/>
<rect x="1.4" y="15" width="1.1" height="1.1" fill="#e6f1fd" opacity="0.9"/>
<rect x="3.3" y="15.1" width="4" height="0.9" fill="#e6f1fd" opacity="0.85"/>
<rect x="1.4" y="18.3" width="1.1" height="1.1" fill="#e6f1fd" opacity="0.9"/>
<rect x="3.3" y="18.4" width="5" height="0.9" fill="#e6f1fd" opacity="0.85"/>
<rect x="1.4" y="21.6" width="1.1" height="1.1" fill="#e6f1fd" opacity="0.9"/>
<rect x="3.3" y="21.7" width="6" height="0.9" fill="#e6f1fd" opacity="0.85"/>
<rect x="1.4" y="24.9" width="1.1" height="1.1" fill="#e6f1fd" opacity="0.9"/>
<rect x="3.3" y="25" width="4" height="0.9" fill="#e6f1fd" opacity="0.85"/>
<rect x="1.4" y="28.2" width="1.1" height="1.1" fill="#e6f1fd" opacity="0.9"/>
<rect x="3.3" y="28.3" width="5" height="0.9" fill="#e6f1fd" opacity="0.85"/>
<rect x="1.4" y="31.5" width="1.1" height="1.1" fill="#e6f1fd" opacity="0.9"/>
<rect x="3.3" y="31.6" width="6" height="0.9" fill="#e6f1fd" opacity="0.85"/>
<rect x="1.4" y="34.8" width="1.1" height="1.1" fill="#e6f1fd" opacity="0.9"/>
<rect x="3.3" y="34.9" width="4" height="0.9" fill="#e6f1fd" opacity="0.85"/>
<rect x="1.4" y="38.1" width="1.1" height="1.1" fill="#e6f1fd" opacity="0.9"/>
<rect x="3.3" y="38.2" width="5" height="0.9" fill="#e6f1fd" opacity="0.85"/>
<rect x="1.4" y="41.4" width="1.1" height="1.1" fill="#e6f1fd" opacity="0.9"/>
<rect x="3.3" y="41.5" width="6" height="0.9" fill="#e6f1fd" opacity="0.85"/>
<rect x="1.4" y="44.7" width="1.1" height="1.1" fill="#e6f1fd" opacity="0.9"/>
<rect x="3.3" y="44.8" width="4" height="0.9" fill="#e6f1fd" opacity="0.85"/>
<rect x="1.4" y="48" width="1.1" height="1.1" fill="#e6f1fd" opacity="0.9"/>
<rect x="3.3" y="48.1" width="5" height="0.9" fill="#e6f1fd" opacity="0.85"/>
<rect x="1.4" y="51.3" width="1.1" height="1.1" fill="#e6f1fd" opacity="0.9"/>
<rect x="3.3" y="51.4" width="6" height="0.9" fill="#e6f1fd" opacity="0.85"/>
<rect x="1.4" y="54.6" width="1.1" height="1.1" fill="#e6f1fd" opacity="0.9"/>
<rect x="3.3" y="54.7" width="4" height="0.9" fill="#e6f1fd" opacity="0.85"/>
<rect x="1.4" y="57.9" width="1.1" height="1.1" fill="#e6f1fd" opacity="0.9"/>
<rect x="3.3" y="58" width="5" height="0.9" fill="#e6f1fd" opacity="0.85"/>
<rect x="17.1369" y="6.27685" width="1" height="0.8" fill="#9aa3ad"/><rect x="19.2788" y="6.27685" width="4.5" height="0.8" fill="#9aa3ad"/>
<rect x="13.8" y="8.20454" width="119.7" height="0.35" fill="#e3e6ea"/>
<rect x="17.1369" y="9.70386" width="8.99358" height="2" rx="0.3" fill="#fff" stroke="#e3e6ea" stroke-width="0.3"/>
<rect x="18.8504" y="10.7748" width="5" height="0.8" fill="#7d858e"/>
<rect x="27.4179" y="9.70386" width="9.42184" height="2" rx="0.3" fill="#fdeedd"/>
<rect x="29.1314" y="10.7748" width="5.5" height="0.8" fill="#e9974c"/>
<rect x="18.8504" y="15.0586" width="3" height="0.9" fill="#555b62"/>
<rect x="32.1301" y="15.0586" width="1.2" height="0.9" fill="#f39a4d"/>
<rect x="34.7003" y="15.0586" width="1.2" height="0.9" fill="#f39a4d"/>
<rect x="36.8422" y="15.0586" width="1.2" height="0.9" fill="#f39a4d"/>
<rect x="18.2079" y="17.2004" width="13.4904" height="2" fill="#fde9d6"/>
<rect x="20.5639" y="18.0572" width="5" height="0.8" fill="#e9974c"/>
<rect x="20.5639" y="20.1991" width="6" height="0.8" fill="#9aa1a9"/>
<rect x="20.5639" y="21.9126" width="5" height="0.8" fill="#9aa1a9"/>
<rect x="20.5639" y="23.6261" width="6" height="0.8" fill="#9aa1a9"/>
<rect x="40.2692" y="14.416" width="2.5" height="0.9" fill="#555b62"/><rect x="43.9104" y="13.5592" width="2.6" height="1.7" rx="0.3" fill="#f58220"/>
<rect x="40.2692" y="17.2004" width="7" height="0.8" fill="#9aa1a9"/>
<rect x="40.2692" y="18.6997" width="89.3163" height="4.49679" fill="#e9f1fb"/>
<rect x="40.2692" y="18.6997" width="11.1349" height="31.4775" fill="#e9f1fb"/>
<rect x="40.2692" y="32.1901" width="89.3163" height="4.49679" fill="#fdebdb"/>
<rect x="40.2692" y="18.6997" width="89.3163" height="0.25" fill="#dfe5ec"/>
<rect x="40.2692" y="23.1965" width="89.3163" height="0.25" fill="#dfe5ec"/>
<rect x="40.2692" y="27.6933" width="89.3163" height="0.25" fill="#dfe5ec"/>
<rect x="40.2692" y="32.1901" width="89.3163" height="0.25" fill="#dfe5ec"/>
<rect x="40.2692" y="36.6869" width="89.3163" height="0.25" fill="#dfe5ec"/>
<rect x="40.2692" y="41.1837" width="89.3163" height="0.25" fill="#dfe5ec"/>
<rect x="40.2692" y="45.6805" width="89.3163" height="0.25" fill="#dfe5ec"/>
<rect x="40.2692" y="50.1773" width="89.3163" height="0.25" fill="#dfe5ec"/>
<rect x="51.407" y="18.6997" width="0.25" height="31.4775" fill="#dfe5ec"/>
<rect x="62.5753" y="18.6997" width="0.25" height="31.4775" fill="#dfe5ec"/>
<rect x="73.7437" y="18.6997" width="0.25" height="31.4775" fill="#dfe5ec"/>
<rect x="84.9121" y="18.6997" width="0.25" height="31.4775" fill="#dfe5ec"/>
<rect x="96.0804" y="18.6997" width="0.25" height="31.4775" fill="#dfe5ec"/>
<rect x="107.249" y="18.6997" width="0.25" height="31.4775" fill="#dfe5ec"/>
<rect x="118.417" y="18.6997" width="0.25" height="31.4775" fill="#dfe5ec"/>
<rect x="129.586" y="18.6997" width="0.25" height="31.4775" fill="#dfe5ec"/>
<rect x="40.2692" y="18.6997" width="0.25" height="31.4775" fill="#dfe5ec"/>
<rect x="55.6897" y="20.5481" width="2.6" height="0.8" fill="#6f8fb8"/>
<rect x="54.8897" y="25.0449" width="4.2" height="0.8" fill="#7d858e" opacity="0.9"/>
<rect x="54.8897" y="29.5417" width="4.2" height="0.8" fill="#7d858e" opacity="0.9"/>
<rect x="54.8897" y="34.0385" width="4.2" height="0.8" fill="#d98a4a" opacity="0.9"/>
<rect x="56.0897" y="38.5353" width="1.8" height="0.8" fill="#7d858e" opacity="0.9"/>
<rect x="56.0897" y="43.0321" width="1.8" height="0.8" fill="#7d858e" opacity="0.9"/>
<rect x="54.8897" y="47.5289" width="4.2" height="0.8" fill="#7d858e" opacity="0.9"/>
<rect x="66.8581" y="20.5481" width="2.6" height="0.8" fill="#6f8fb8"/>
<rect x="66.0581" y="25.0449" width="4.2" height="0.8" fill="#7d858e" opacity="0.9"/>
<rect x="66.0581" y="29.5417" width="4.2" height="0.8" fill="#7d858e" opacity="0.9"/>
<rect x="66.0581" y="34.0385" width="4.2" height="0.8" fill="#d98a4a" opacity="0.9"/>
<rect x="67.2581" y="38.5353" width="1.8" height="0.8" fill="#7d858e" opacity="0.9"/>
<rect x="67.2581" y="43.0321" width="1.8" height="0.8" fill="#7d858e" opacity="0.9"/>
<rect x="66.0581" y="47.5289" width="4.2" height="0.8" fill="#7d858e" opacity="0.9"/>
<rect x="78.0264" y="20.5481" width="2.6" height="0.8" fill="#6f8fb8"/>
<rect x="77.2264" y="25.0449" width="4.2" height="0.8" fill="#7d858e" opacity="0.9"/>
<rect x="77.2264" y="29.5417" width="4.2" height="0.8" fill="#7d858e" opacity="0.9"/>
<rect x="77.2264" y="34.0385" width="4.2" height="0.8" fill="#d98a4a" opacity="0.9"/>
<rect x="78.4264" y="38.5353" width="1.8" height="0.8" fill="#7d858e" opacity="0.9"/>
<rect x="78.4264" y="43.0321" width="1.8" height="0.8" fill="#7d858e" opacity="0.9"/>
<rect x="77.2264" y="47.5289" width="4.2" height="0.8" fill="#7d858e" opacity="0.9"/>
<rect x="89.1948" y="20.5481" width="2.6" height="0.8" fill="#6f8fb8"/>
<rect x="88.3948" y="25.0449" width="4.2" height="0.8" fill="#7d858e" opacity="0.9"/>
<rect x="88.3948" y="29.5417" width="4.2" height="0.8" fill="#7d858e" opacity="0.9"/>
<rect x="88.3948" y="34.0385" width="4.2" height="0.8" fill="#d98a4a" opacity="0.9"/>
<rect x="89.5948" y="38.5353" width="1.8" height="0.8" fill="#7d858e" opacity="0.9"/>
<rect x="89.5948" y="43.0321" width="1.8" height="0.8" fill="#7d858e" opacity="0.9"/>
<rect x="88.3948" y="47.5289" width="4.2" height="0.8" fill="#7d858e" opacity="0.9"/>
<rect x="100.363" y="20.5481" width="2.6" height="0.8" fill="#6f8fb8"/>
<rect x="99.5632" y="25.0449" width="4.2" height="0.8" fill="#7d858e" opacity="0.9"/>
<rect x="99.5632" y="29.5417" width="4.2" height="0.8" fill="#7d858e" opacity="0.9"/>
<rect x="99.5632" y="34.0385" width="4.2" height="0.8" fill="#d98a4a" opacity="0.9"/>
<rect x="100.763" y="38.5353" width="1.8" height="0.8" fill="#7d858e" opacity="0.9"/>
<rect x="100.763" y="43.0321" width="1.8" height="0.8" fill="#7d858e" opacity="0.9"/>
<rect x="99.5632" y="47.5289" width="4.2" height="0.8" fill="#7d858e" opacity="0.9"/>
<rect x="111.532" y="20.5481" width="2.6" height="0.8" fill="#6f8fb8"/>
<rect x="110.732" y="25.0449" width="4.2" height="0.8" fill="#7d858e" opacity="0.9"/>
<rect x="110.732" y="29.5417" width="4.2" height="0.8" fill="#7d858e" opacity="0.9"/>
<rect x="110.732" y="34.0385" width="4.2" height="0.8" fill="#d98a4a" opacity="0.9"/>
<rect x="111.932" y="38.5353" width="1.8" height="0.8" fill="#7d858e" opacity="0.9"/>
<rect x="111.932" y="43.0321" width="1.8" height="0.8" fill="#7d858e" opacity="0.9"/>
<rect x="110.732" y="47.5289" width="4.2" height="0.8" fill="#7d858e" opacity="0.9"/>
<rect x="122.7" y="20.5481" width="2.6" height="0.8" fill="#6f8fb8"/>
<rect x="121.9" y="25.0449" width="4.2" height="0.8" fill="#7d858e" opacity="0.9"/>
<rect x="121.9" y="29.5417" width="4.2" height="0.8" fill="#7d858e" opacity="0.9"/>
<rect x="121.9" y="34.0385" width="4.2" height="0.8" fill="#d98a4a" opacity="0.9"/>
<rect x="123.1" y="38.5353" width="1.8" height="0.8" fill="#7d858e" opacity="0.9"/>
<rect x="123.1" y="43.0321" width="1.8" height="0.8" fill="#7d858e" opacity="0.9"/>
<rect x="121.9" y="47.5289" width="4.2" height="0.8" fill="#7d858e" opacity="0.9"/>
<rect x="42.7692" y="20.5481" width="3" height="0.8" fill="#7fa0cc"/>
<rect x="42.7692" y="25.0449" width="6.5" height="0.8" fill="#7fa0cc"/>
<rect x="42.7692" y="29.5417" width="6.5" height="0.8" fill="#7fa0cc"/>
<rect x="42.7692" y="34.0385" width="6.5" height="0.8" fill="#7fa0cc"/>
<rect x="42.7692" y="38.5353" width="6.5" height="0.8" fill="#7fa0cc"/>
<rect x="42.7692" y="43.0321" width="6.5" height="0.8" fill="#7fa0cc"/>
<rect x="42.7692" y="47.5289" width="6.5" height="0.8" fill="#7fa0cc"/>
<rect x="40.2692" y="51.0421" width="7.92291" height="1.7" rx="0.3" fill="#f58220"/>
<rect x="49.6935" y="51.0421" width="8.56531" height="1.7" rx="0.3" fill="#f58220"/>
<rect x="59.9745" y="51.0421" width="8.56531" height="1.7" rx="0.3" fill="#f58220"/>
<rect x="40.6976" y="54.4691" width="3.6" height="0.8" fill="#9aa1a9"/><rect x="46.0523" y="54.1691" width="2.6" height="1.4" fill="#fdeedd"/>
<rect x="40.6976" y="56.611" width="3.6" height="0.8" fill="#9aa1a9"/><rect x="46.0523" y="56.311" width="2.6" height="1.4" fill="#fdeedd"/>
<rect x="40.6976" y="60.4664" width="3" height="0.8" fill="#7d858e"/><rect x="52.4779" y="60.4664" width="2" height="0.8" fill="#c9ced4"/><rect x="63.1873" y="60.4664" width="2" height="0.8" fill="#c9ced4"/>
<rect x="17.1369" y="64.9643" width="6.42398" height="2" rx="0.4" fill="#f58220"/>
</g>
</g>
<g>
<rect x="287.2" y="396" width="1.8" height="22" fill="#f49c36"/>
<path d="M274.2 394.5 Q275.5 389.5 281 388.2 L294.6 388.2 Q300.4 389.5 301.8 394.5 Q301.8 396.2 300 396.6 Q288 398.2 276 396.6 Q274.2 396.2 274.2 394.5 Z" fill="#2b2b2d"/>
<path d="M275.5 393.8 Q288 391.2 300.5 393.8" stroke="#5a5a5e" stroke-width="0.8" fill="none"/>
<path d="M281.2 377.6 H283.6 V388 H292 V377.6 H294.2 L294.6 389.5 H280.8 Z" fill="#303033"/>
<rect x="283" y="377.2" width="9.4" height="9.2" rx="2.6" fill="#3a3a3e"/>
<circle cx="287.7" cy="381.2" r="3.6" fill="#18181a"/>
<circle cx="287.7" cy="381.2" r="2" fill="#4a4c55"/>
<circle cx="287.1" cy="380.5" r="0.8" fill="#9fa3b0"/>
</g>
<g>
<rect x="317.2" y="397.9" width="1.8" height="21" fill="#f49c36"/>
<path d="M308.7 392.2 L320 385.8 L330.6 390 L317.8 398.4 Z" fill="#2a2a2c"/>
<path d="M308.7 392.2 L320 385.8 L325 387.6 L314 394.4 Z" fill="#47474a"/>
<path d="M308.7 392.2 L317.8 398.4 L317.4 396.4 Z" fill="#1a1a1b"/>
<path d="M304.8 361.6 L316.5 373.4 Q321 375.4 321 380.4 L321 386.9" fill="none" stroke="#3a3a3c" stroke-width="1.3" stroke-linecap="round"/>
<path d="M304.8 361.6 L308.461 365.293" stroke="#2d2d2f" stroke-width="2.3" stroke-linecap="round"/>
<path d="M308.602 365.435 L309.306 366.145" stroke="#c0392b" stroke-width="2.1"/>
</g>
<g>
<path d="M283.3 417 H321.8 L329.3 420.9 H273.4 Z" fill="#2e2e30"/>
<rect x="273.4" y="420.8" width="55.9" height="14" fill="#0c0c0d"/>
<rect x="273.4" y="420.8" width="3.6" height="14" fill="#1d1d1f"/><rect x="325.7" y="420.8" width="3.6" height="14" fill="#1d1d1f"/>
<rect x="274.3" y="422.6" width="1.5" height="1.6" fill="#55565a"/><rect x="274.3" y="431" width="1.5" height="1.6" fill="#55565a"/>
<rect x="327" y="422.6" width="1.5" height="1.6" fill="#55565a"/><rect x="327" y="431" width="1.5" height="1.6" fill="#55565a"/>
<rect x="283.4" y="425.6" width="2.1" height="3.2" rx="0.4" fill="#e8232a"/>
<rect x="283.9" y="422.8" width="1" height="1" fill="#4a4a4e"/><rect x="283.9" y="430.4" width="1" height="1" fill="#4a4a4e"/>
<rect x="303" y="429.2" width="4.6" height="1.6" fill="#8a8a90" opacity="0.8"/>
<rect x="273.4" y="434.2" width="55.9" height="0.6" fill="#2a2a2c"/>
</g>
<g>
<path d="M185.9 636.8 L197.2 630.4 L207.8 634.6 L195 643 Z" fill="#2a2a2c"/>
<path d="M185.9 636.8 L197.2 630.4 L202.2 632.2 L191.2 639 Z" fill="#47474a"/>
<path d="M185.9 636.8 L195 643 L194.6 641 Z" fill="#1a1a1b"/>
<path d="M181 605 L193.7 618 Q198.2 620 198.2 625 L198.2 631.5" fill="none" stroke="#3a3a3c" stroke-width="1.3" stroke-linecap="round"/>
<path d="M181 605 L184.634 608.72" stroke="#2d2d2f" stroke-width="2.3" stroke-linecap="round"/>
<path d="M184.774 608.863 L185.472 609.578" stroke="#c0392b" stroke-width="2.1"/>
</g>
<g>
<rect x="421.5" y="322.4" width="189" height="112" fill="#1a1a1c"/>
<rect x="422.6" y="323.5" width="186.8" height="104.6" fill="url(#tv1bg)"/>
<g clip-path="url(#tv1clip)">
<g opacity="0.5" fill="#6e2a22" filter="url(#b1)"><rect x="429" y="372" width="6" height="40"/><rect x="426.5" y="368" width="11" height="5"/><rect x="428" y="388" width="9" height="3"/><rect x="424" y="405" width="30" height="24"/><rect x="436" y="396" width="5" height="14"/><rect x="445" y="410" width="20" height="18"/></g>
<g opacity="0.35" fill="#5a2a22" filter="url(#b1)"><rect x="470" y="412" width="12" height="16"/><rect x="484" y="416" width="20" height="12"/><rect x="556" y="410" width="14" height="18"/><rect x="590" y="404" width="18" height="24"/></g>
<path d="M441 330.4 L454.6 334.4 L453.6 345.6 L446.6 346.2 L447.6 336.2 L440.4 333.6 Z" fill="#c3262c" opacity="0.92"/>
<path d="M431.4 336.6 L438 336.2 L437.4 338 L430.8 338.4 Z" fill="#c3262c" opacity="0.7"/>
<g filter="url(#b1)">
<path d="M438.7 418 L439.7 397 Q440.2 387 448.56 382.5 L457.6 375.5 L462.2 374 L466.8 375.5 Q471.5 382.5 477.2 387 L477.7 397 L478.7 418 Z" fill="url(#suit)"/>
<path d="M457.6 375.2 L466.8 375.2 L463.7 392 Z" fill="#f3f1f0"/>
<path d="M457.4 375 L463.5 392.6 L454.4 382 Z" fill="#111113"/>
<path d="M467 375 L463.9 392.6 L470 382 Z" fill="#111113"/>
<path d="M461 377.4 L463.4 377.4 L465.7 388.5 L463.9 392 L462.3 388.5 Z" fill="#b21f2d"/>
<circle cx="470.8" cy="384.4" r="0.9" fill="#c9302c"/>
<path d="M458.6 369 L465.8 369 L466.2 375.8 L458.2 375.8 Z" fill="#bf8b6b"/>
<ellipse cx="455" cy="365" rx="1" ry="2.2" fill="#c99778"/><ellipse cx="469.4" cy="365" rx="1" ry="2.2" fill="#c99778"/>
<path d="M455.3 359.4 Q455.2 369.4 458.8 373.6 Q462.2 376 465.6 373.6 Q469.2 369.4 469.1 359.4 Q462.2 353.9 455.3 359.4 Z" fill="#d6a684"/>
<path d="M454.9 364 Q453.4 353.6 461.2 352.1 Q470.8 352.6 469.5 364 L468.8 359.8 Q467.2 357.2 462.2 357.8 Q457.8 357 455.6 359.8 Z" fill="#15110e"/>
<ellipse cx="461.6" cy="366.8" rx="3.2" ry="3.6" fill="#ecc5a6" opacity="0.55"/>
<rect x="457.1" y="362.8" width="3.8" height="1.1" rx="0.5" fill="#3d2a20" opacity="0.8"/><rect x="463.5" y="362.8" width="3.8" height="1.1" rx="0.5" fill="#3d2a20" opacity="0.8"/>
<rect x="461.6" y="364.6" width="1.2" height="3.2" fill="#b98263" opacity="0.55"/>
<rect x="460" y="370.2" width="4.4" height="0.9" rx="0.4" fill="#8f4f40" opacity="0.75"/>
<path d="M553.7 418 L554.7 398 Q555.2 388 562.8 383.5 L570.6 376.5 L575.2 375 L579.8 376.5 Q587.91 383.5 595.7 388 L596.2 398 L597.2 418 Z" fill="url(#suit)"/>
<path d="M570.6 376.2 L579.8 376.2 L576.4 393 Z" fill="#f3f1f0"/>
<path d="M570.4 376 L576.2 393.6 L567.4 383 Z" fill="#111113"/>
<path d="M580 376 L576.6 393.6 L583 383 Z" fill="#111113"/>
<path d="M574 378.4 L576.4 378.4 L578.4 389.5 L576.6 393 L575 389.5 Z" fill="#b21f2d"/>
<circle cx="583.8" cy="385.4" r="0.9" fill="#c9302c"/>
<path d="M571.6 370 L578.8 370 L579.2 376.8 L571.2 376.8 Z" fill="#bf8b6b"/>
<ellipse cx="568" cy="366" rx="1" ry="2.2" fill="#c99778"/><ellipse cx="582.4" cy="366" rx="1" ry="2.2" fill="#c99778"/>
<path d="M568.3 360.4 Q568.2 370.4 571.8 374.6 Q575.2 377 578.6 374.6 Q582.2 370.4 582.1 360.4 Q575.2 354.9 568.3 360.4 Z" fill="#d9ad8f"/>
<path d="M567.9 365 Q566.4 354.6 574.2 353.1 Q583.8 353.6 582.5 365 L581.8 360.8 Q580.2 358.2 575.2 358.8 Q570.8 358 568.6 360.8 Z" fill="#15110e"/>
<ellipse cx="574.6" cy="367.8" rx="3.2" ry="3.6" fill="#ecc5a6" opacity="0.55"/>
<rect x="570.1" y="363.8" width="3.8" height="1.1" rx="0.5" fill="#3d2a20" opacity="0.8"/><rect x="576.5" y="363.8" width="3.8" height="1.1" rx="0.5" fill="#3d2a20" opacity="0.8"/>
<rect x="574.6" y="365.6" width="1.2" height="3.2" fill="#b98263" opacity="0.55"/>
<rect x="573" y="371.2" width="4.4" height="0.9" rx="0.4" fill="#8f4f40" opacity="0.75"/>
<path d="M518.5 418 L519.5 396.8 Q520 386.8 526.08 382.3 L531.4 375.3 L536 373.8 L540.6 375.3 Q547.78 382.3 555 386.8 L555.5 396.8 L556.5 418 Z" fill="url(#suit)"/>
<path d="M531.4 375 L540.6 375 L534 391.8 Z" fill="#f3f1f0"/>
<path d="M531.2 374.8 L533.8 392.4 L528.2 381.8 Z" fill="#111113"/>
<path d="M540.8 374.8 L534.2 392.4 L543.8 381.8 Z" fill="#111113"/>
<path d="M534.8 377.2 L537.2 377.2 L536 388.3 L534.2 391.8 L532.6 388.3 Z" fill="#b21f2d"/>
<circle cx="544.6" cy="384.2" r="0.9" fill="#c9302c"/>
<path d="M532.4 368.8 L539.6 368.8 L540 375.6 L532 375.6 Z" fill="#bf8b6b"/>
<ellipse cx="528.8" cy="364.8" rx="1" ry="2.2" fill="#c99778"/><ellipse cx="543.2" cy="364.8" rx="1" ry="2.2" fill="#c99778"/>
<path d="M529.1 359.2 Q529 369.2 532.6 373.4 Q536 375.8 539.4 373.4 Q543 369.2 542.9 359.2 Q536 353.7 529.1 359.2 Z" fill="#dcb092"/>
<path d="M528.7 363.8 Q527.2 353.4 535 351.9 Q544.6 352.4 543.3 363.8 L542.6 359.6 Q541 357 536 357.6 Q531.6 356.8 529.4 359.6 Z" fill="#15110e"/>
<ellipse cx="535.4" cy="366.6" rx="3.2" ry="3.6" fill="#ecc5a6" opacity="0.55"/>
<rect x="530.9" y="362.6" width="3.8" height="1.1" rx="0.5" fill="#3d2a20" opacity="0.8"/><rect x="537.3" y="362.6" width="3.8" height="1.1" rx="0.5" fill="#3d2a20" opacity="0.8"/>
<rect x="535.4" y="364.4" width="1.2" height="3.2" fill="#b98263" opacity="0.55"/>
<rect x="533.8" y="370" width="4.4" height="0.9" rx="0.4" fill="#8f4f40" opacity="0.75"/>
<path d="M475.4 418 L476.4 396.1 Q476.9 386.1 485.64 381.6 L495.3 374.6 L499.9 373.1 L504.5 374.6 Q513.23 381.6 521.4 386.1 L521.9 396.1 L522.9 418 Z" fill="url(#suit)"/>
<path d="M495.3 374.3 L504.5 374.3 L501.9 391.1 Z" fill="#f3f1f0"/>
<path d="M495.1 374.1 L501.7 391.7 L492.1 381.1 Z" fill="#111113"/>
<path d="M504.7 374.1 L502.1 391.7 L507.7 381.1 Z" fill="#111113"/>
<path d="M498.7 376.5 L501.1 376.5 L503.9 387.6 L502.1 391.1 L500.5 387.6 Z" fill="#b21f2d"/>
<circle cx="508.5" cy="383.5" r="0.9" fill="#c9302c"/>
<path d="M496.3 368.1 L503.5 368.1 L503.9 374.9 L495.9 374.9 Z" fill="#bf8b6b"/>
<ellipse cx="492.7" cy="364.1" rx="1" ry="2.2" fill="#c99778"/><ellipse cx="507.1" cy="364.1" rx="1" ry="2.2" fill="#c99778"/>
<path d="M493 358.5 Q492.9 368.5 496.5 372.7 Q499.9 375.1 503.3 372.7 Q506.9 368.5 506.8 358.5 Q499.9 353 493 358.5 Z" fill="#dbae8e"/>
<path d="M492.6 363.1 Q491.1 352.7 498.9 351.2 Q508.5 351.7 507.2 363.1 L506.5 358.9 Q504.9 356.3 499.9 356.9 Q495.5 356.1 493.3 358.9 Z" fill="#15110e"/>
<ellipse cx="499.3" cy="365.9" rx="3.2" ry="3.6" fill="#ecc5a6" opacity="0.55"/>
<rect x="494.8" y="361.9" width="3.8" height="1.1" rx="0.5" fill="#3d2a20" opacity="0.8"/><rect x="501.2" y="361.9" width="3.8" height="1.1" rx="0.5" fill="#3d2a20" opacity="0.8"/>
<rect x="499.3" y="363.7" width="1.2" height="3.2" fill="#b98263" opacity="0.55"/>
<rect x="497.7" y="369.3" width="4.4" height="0.9" rx="0.4" fill="#8f4f40" opacity="0.75"/>
</g>
<rect x="475.2" y="359" width="0.9" height="8" fill="#e9e4dc" opacity="0.8"/><rect x="475.2" y="368.5" width="0.9" height="6.5" fill="#e9e4dc" opacity="0.7"/>
<rect x="510.6" y="360" width="0.9" height="8" fill="#e9e4dc" opacity="0.8"/><rect x="510.6" y="369.5" width="0.9" height="6.5" fill="#e9e4dc" opacity="0.7"/>
<rect x="529.6" y="360" width="0.9" height="8" fill="#e9e4dc" opacity="0.8"/><rect x="529.6" y="369.5" width="0.9" height="6.5" fill="#e9e4dc" opacity="0.7"/>
<rect x="563.4" y="358" width="0.9" height="8" fill="#e9e4dc" opacity="0.8"/><rect x="563.4" y="367.5" width="0.9" height="6.5" fill="#e9e4dc" opacity="0.7"/>
<rect x="422.6" y="323.5" width="186.8" height="104.6" fill="url(#tv1vig)"/>
<rect x="422.6" y="398" width="186.8" height="30.2" fill="url(#tv1btm)"/>
<g opacity="0.38" fill="#5e2019" filter="url(#b1)"><rect x="424" y="414" width="12" height="14"/><rect x="438" y="410" width="7" height="18"/><rect x="447" y="416" width="16" height="12"/><rect x="466" y="419" width="10" height="9"/><rect x="548" y="417" width="14" height="11"/><rect x="566" y="414" width="8" height="14"/><rect x="590" y="409" width="9" height="19"/><rect x="600" y="416" width="9" height="12"/></g>
</g>
<rect x="421.5" y="428" width="189" height="6.4" fill="url(#tv1bar)"/>
</g>
<g fill="#efeae2" opacity="0.85"><circle cx="497.2" cy="423" r="1.3" fill="#d23a2a"/><rect x="499.6" y="422.4" width="14" height="1.3"/><rect x="515.6" y="422.4" width="13" height="1.3"/><rect x="530.5" y="422" width="7.5" height="2" fill="#e9e4dc"/><rect x="532.8" y="422" width="2.2" height="2" fill="#d23a2a"/>
<rect x="578" y="413.4" width="22" height="1.5"/><rect x="573" y="418" width="31" height="1.2"/><rect x="573" y="421.4" width="31" height="1.2"/></g>
<g>
<path d="M746.70 347.95 Q747.80 344.10 751.76 344.66 L818.84 354.24 Q822.80 354.80 821.78 358.67 L806.02 418.73 Q805.00 422.60 801.28 421.12 L737.22 395.58 Q733.50 394.10 734.60 390.25 Z" fill="#c9c9c9" opacity="0.55" filter="url(#b1)"/>
<path d="M746.10 347.45 Q747.20 343.60 751.16 344.16 L818.24 353.74 Q822.20 354.30 821.18 358.17 L805.42 418.23 Q804.40 422.10 800.68 420.62 L736.62 395.08 Q732.90 393.60 734.00 389.75 Z" fill="#d9d9d9"/>
<path d="M745.30 346.75 Q746.40 342.90 750.36 343.46 L817.44 353.04 Q821.40 353.60 820.38 357.47 L804.62 417.53 Q803.60 421.40 799.88 419.92 L735.82 394.38 Q732.10 392.90 733.20 389.05 Z" fill="url(#tabBody)" stroke="#e3e3e3" stroke-width="0.4"/>
<path d="M746.60 347.20 L816.10 356.60 L800.40 415.20 L734.40 390.60 Z" fill="#fff" stroke="#2f5fe0" stroke-width="1.1" stroke-linejoin="round"/>
<path d="M746.60 347.20 L816.10 356.60 L815.16 360.12 L745.87 349.80 Z" fill="#2f5fe0" />
<path d="M774.20 351.70 L781.14 352.66 L780.72 354.19 L773.79 353.19 Z" fill="#dfe7fb" />
<path d="M747.81 348.04 L750.58 348.43 L750.21 349.76 L747.44 349.35 Z" fill="#dfe7fb" opacity="0.8"/>
<path d="M810.31 356.71 L814.82 357.33 L814.35 359.09 L809.85 358.43 Z" fill="#dfe7fb" opacity="0.8"/>
<path d="M768.29 357.44 L775.19 358.60 L774.78 360.10 L767.89 358.90 Z" fill="#4a7ae6" opacity="0.8"/>
<path d="M776.57 358.83 L782.78 359.88 L782.35 361.43 L776.15 360.34 Z" fill="#4a7ae6" opacity="0.8"/>
<path d="M749.13 357.48 L771.82 361.66 L771.49 362.85 L748.83 358.55 Z" fill="#7d858e" opacity="0.6"/>
<path d="M745.03 361.81 L746.39 362.09 L745.96 363.64 L744.60 363.34 Z" fill="#f7a24a" />
<path d="M747.70 362.60 L775.04 368.37 L774.71 369.58 L747.40 363.67 Z" fill="#7d858e" opacity="0.6"/>
<path d="M743.67 366.64 L745.03 366.96 L744.60 368.51 L743.24 368.18 Z" fill="#f7c98a" />
<path d="M746.33 367.50 L761.28 371.04 L760.96 372.19 L746.03 368.57 Z" fill="#7d858e" opacity="0.6"/>
<path d="M742.38 371.25 L743.73 371.60 L743.30 373.15 L741.95 372.79 Z" fill="#f7c98a" />
<path d="M745.02 372.18 L753.81 374.48 L753.50 375.59 L744.72 373.25 Z" fill="#7d858e" opacity="0.6"/>
<path d="M757.12 387.43 L763.79 389.55 L763.04 392.28 L756.39 390.07 Z" fill="#c4c7cb" />
<path d="M765.80 390.19 L773.81 392.74 L773.03 395.59 L765.04 392.94 Z" fill="#f7913a" />
<path d="M775.81 393.38 L783.16 395.72 L782.35 398.68 L775.03 396.25 Z" fill="#c4c7cb" />
<circle cx="778.95" cy="349.90" r="0.6" fill="#333"/>
</g>
<g>
<path d="M745.34 568.66 Q746.40 564.80 750.35 565.41 L820.35 576.29 Q824.30 576.90 823.35 580.78 L808.05 643.02 Q807.10 646.90 803.39 645.41 L735.81 618.39 Q732.10 616.90 733.16 613.04 Z" fill="#c9c9c9" opacity="0.55" filter="url(#b1)"/>
<path d="M744.74 568.16 Q745.80 564.30 749.75 564.91 L819.75 575.79 Q823.70 576.40 822.75 580.28 L807.45 642.52 Q806.50 646.40 802.79 644.91 L735.21 617.89 Q731.50 616.40 732.56 612.54 Z" fill="#d9d9d9"/>
<path d="M743.94 567.46 Q745.00 563.60 748.95 564.21 L818.95 575.09 Q822.90 575.70 821.95 579.58 L806.65 641.82 Q805.70 645.70 801.99 644.21 L734.41 617.19 Q730.70 615.70 731.76 611.84 Z" fill="url(#tabBody)" stroke="#e3e3e3" stroke-width="0.4"/>
<path d="M745.20 568.00 L818.60 578.80 L802.60 640.60 L733.00 614.20 Z" fill="#fff" stroke="#2f5fe0" stroke-width="1.1" stroke-linejoin="round"/>
<path d="M745.20 568.00 L818.60 578.80 L817.40 583.43 L744.29 571.47 Z" fill="#2f5fe0" />
<path d="M746.42 569.15 L752.29 570.04 L751.91 571.47 L746.05 570.54 Z" fill="#dfe7fb" opacity="0.7"/>
<path d="M803.62 577.81 L808.75 578.59 L808.28 580.38 L803.16 579.57 Z" fill="#dfe7fb" opacity="0.7"/>
<path d="M810.95 578.92 L816.45 579.76 L815.97 581.60 L810.48 580.73 Z" fill="#dfe7fb" opacity="0.7"/>
<path d="M751.84 582.96 Q752.10 582.10 752.98 582.26 L763.02 584.14 Q763.90 584.30 763.67 585.17 L760.93 595.53 Q760.70 596.40 759.82 596.20 L749.48 593.80 Q748.60 593.60 748.86 592.74 Z" fill="#2ea7f6"/>
<path d="M766.85 585.86 Q767.10 585.00 767.98 585.17 L778.42 587.23 Q779.30 587.40 779.10 588.28 L776.60 599.12 Q776.40 600.00 775.52 599.80 L764.48 597.30 Q763.60 597.10 763.85 596.24 Z" fill="#8c6ef0"/>
<path d="M747.16 598.77 Q747.40 597.90 748.28 598.11 L758.42 600.49 Q759.30 600.70 759.10 601.58 L756.60 612.72 Q756.40 613.60 755.54 613.35 L744.86 610.25 Q744.00 610.00 744.24 609.13 Z" fill="#3fc56f"/>
<path d="M761.86 602.57 Q762.10 601.70 762.98 601.90 L774.12 604.40 Q775.00 604.60 774.79 605.47 L771.91 617.43 Q771.70 618.30 770.83 618.06 L759.47 614.84 Q758.60 614.60 758.84 613.73 Z" fill="#f58e8e"/>
<path d="M782.69 588.77 Q782.90 587.90 783.78 588.07 L798.42 590.93 Q799.30 591.10 799.07 591.97 L790.63 624.13 Q790.40 625.00 789.54 624.74 L775.86 620.66 Q775.00 620.40 775.21 619.53 Z" fill="#f9a13f"/>
<path d="M783.5 589 L798 592 Q795 606 779.5 611.5 Z" fill="#fbb463" opacity="0.7"/>
<rect x="758.4" y="592.4" width="1.8" height="1.8" fill="#fff" opacity="0.9"/>
<rect x="773.8" y="595.8" width="1.8" height="1.8" fill="#fff" opacity="0.9"/>
<rect x="753.8" y="609.2" width="1.8" height="1.8" fill="#fff" opacity="0.9"/>
<rect x="769" y="613.6" width="1.8" height="1.8" fill="#fff" opacity="0.9"/>
<rect x="787.2" y="619.6" width="1.8" height="1.8" fill="#fff" opacity="0.9"/>
<rect x="753.2" y="584.4" width="4.4" height="0.9" fill="#fff" opacity="0.75" transform="rotate(11 753.2 584.4)"/>
<rect x="768" y="587.3" width="4.4" height="0.9" fill="#fff" opacity="0.75" transform="rotate(11 768 587.3)"/>
<rect x="748.6" y="600.3" width="4.4" height="0.9" fill="#fff" opacity="0.75" transform="rotate(11 748.6 600.3)"/>
<rect x="763.3" y="604.2" width="4.4" height="0.9" fill="#fff" opacity="0.75" transform="rotate(11 763.3 604.2)"/>
<rect x="784.2" y="591.4" width="4.4" height="0.9" fill="#fff" opacity="0.75" transform="rotate(11 784.2 591.4)"/>
<circle cx="779.6" cy="587.6" r="1.2" fill="#f0313a"/><circle cx="774.7" cy="605.4" r="1.2" fill="#f0313a"/>
<circle cx="778.80" cy="571.20" r="0.6" fill="#333"/>
</g>
<g>
<path d="M404 576.4 L529.6 571.1 L529.6 651 L404 646.7 Z" fill="#1b1512"/>
<path d="M405.4 577.7 L528.2 572.6 L528.2 649.4 L405.4 645.4 Z" fill="url(#tv2bg)"/>
<g clip-path="url(#tv2clip)">
<g filter="url(#b1)">
<ellipse cx="421" cy="600" rx="25" ry="23" fill="url(#tv2glow)"/>
<path d="M405 577.6 L528.4 572.4 L528.4 580 L405 584.6 Z" fill="#081634" opacity="0.55"/>
<path d="M452 586 Q490 578 528 580 L528 588 Q490 586 452 594 Z" fill="#0c1f4a" opacity="0.8"/>
<rect x="448" y="597" width="4.4" height="3.4" fill="#4f86d8" opacity="0.7"/>
<rect x="448" y="602.5" width="4.4" height="3.2" fill="#3f72c4" opacity="0.6"/>
<rect x="448" y="607.6" width="4.4" height="3.2" fill="#3f72c4" opacity="0.45"/>
<rect x="454.2" y="595.9" width="4.4" height="3.4" fill="#4f86d8" opacity="0.7"/>
<rect x="454.2" y="601.4" width="4.4" height="3.2" fill="#3f72c4" opacity="0.6"/>
<rect x="454.2" y="606.5" width="4.4" height="3.2" fill="#3f72c4" opacity="0.45"/>
<rect x="460.4" y="594.8" width="4.4" height="3.4" fill="#4f86d8" opacity="0.7"/>
<rect x="460.4" y="600.3" width="4.4" height="3.2" fill="#3f72c4" opacity="0.6"/>
<rect x="460.4" y="605.4" width="4.4" height="3.2" fill="#3f72c4" opacity="0.45"/>
<rect x="466.6" y="593.7" width="4.4" height="3.4" fill="#4f86d8" opacity="0.7"/>
<rect x="466.6" y="599.2" width="4.4" height="3.2" fill="#3f72c4" opacity="0.6"/>
<rect x="466.6" y="604.3" width="4.4" height="3.2" fill="#3f72c4" opacity="0.45"/>
<rect x="472.8" y="592.6" width="4.4" height="3.4" fill="#4f86d8" opacity="0.7"/>
<rect x="472.8" y="598.1" width="4.4" height="3.2" fill="#3f72c4" opacity="0.6"/>
<rect x="472.8" y="603.2" width="4.4" height="3.2" fill="#3f72c4" opacity="0.45"/>
<rect x="479" y="591.5" width="4.4" height="3.4" fill="#4f86d8" opacity="0.7"/>
<rect x="479" y="597" width="4.4" height="3.2" fill="#3f72c4" opacity="0.6"/>
<rect x="479" y="602.1" width="4.4" height="3.2" fill="#3f72c4" opacity="0.45"/>
<rect x="485.2" y="590.4" width="4.4" height="3.4" fill="#4f86d8" opacity="0.7"/>
<rect x="485.2" y="595.9" width="4.4" height="3.2" fill="#3f72c4" opacity="0.6"/>
<rect x="485.2" y="601" width="4.4" height="3.2" fill="#3f72c4" opacity="0.45"/>
<rect x="491.4" y="589.3" width="4.4" height="3.4" fill="#4f86d8" opacity="0.7"/>
<rect x="491.4" y="594.8" width="4.4" height="3.2" fill="#3f72c4" opacity="0.6"/>
<rect x="491.4" y="599.9" width="4.4" height="3.2" fill="#3f72c4" opacity="0.45"/>
<rect x="497.6" y="588.2" width="4.4" height="3.4" fill="#4f86d8" opacity="0.7"/>
<rect x="497.6" y="593.7" width="4.4" height="3.2" fill="#3f72c4" opacity="0.6"/>
<rect x="497.6" y="598.8" width="4.4" height="3.2" fill="#3f72c4" opacity="0.45"/>
<rect x="502" y="579" width="6" height="5" fill="#5f96e0" opacity="0.65"/>
<rect x="510" y="578" width="6" height="5.5" fill="#5f96e0" opacity="0.65"/>
<rect x="505" y="589" width="7" height="6" fill="#5f96e0" opacity="0.65"/>
<rect x="514" y="603" width="5" height="4" fill="#5f96e0" opacity="0.65"/>
<rect x="519" y="586" width="6" height="5" fill="#5f96e0" opacity="0.65"/>
<path d="M447 611 Q470 606 500 611 L500 614 Q470 610 447 614 Z" fill="#2a5aa8" opacity="0.8"/>
<rect x="405" y="612" width="124" height="10" fill="#0a1838" opacity="0.55"/>
<path d="M417.6 629 Q418.4 608.5 427.6 605 L438.2 605 Q447 608.5 448.2 629 Z" fill="#15151a"/>
<path d="M428.8 604.6 L437 604.6 L434.6 621.5 L431.4 621.5 Z" fill="#7c2231"/>
<path d="M426.4 598 Q425 586 432.8 585.8 Q440.6 586 439.2 598 Q438.4 601.6 436.4 602 L429.2 602 Q427.2 601.6 426.4 598 Z" fill="#2b1512"/>
<rect x="430.8" y="600" width="3.8" height="5.6" fill="#e3b79c"/>
<path d="M428.8 594 Q428.6 589.2 432.8 589 Q437 589.2 436.8 594 Q436.6 599.6 432.8 602 Q429 599.6 428.8 594 Z" fill="#efc8ae"/>
<path d="M428.4 594.4 Q428.4 588.4 433 588.2 Q437.2 588.4 437.2 594 Q436 590.6 432.6 590.8 Q429.6 591 428.4 594.4 Z" fill="#2b1512"/>
<rect x="431.6" y="598.2" width="2.4" height="0.8" fill="#b0403c" opacity="0.8"/>
<path d="M474.6 630 Q474 605.5 485 602.5 L497 602.5 Q508.4 605.5 507.6 630 Z" fill="#2a2d36"/>
<path d="M486.2 602.5 L495.6 602.5 L491 616 Z" fill="#f2f2f4"/>
<path d="M490.1 604.5 L491.9 604.5 L492.6 615 L491 618.5 L489.6 615 Z" fill="#7a1f2d"/>
<rect x="488.6" y="597" width="4.6" height="6.5" fill="#dcae92"/>
<ellipse cx="490.9" cy="592.6" rx="4.4" ry="5.8" fill="#e8bca0"/>
<path d="M486.3 592 Q485.6 585.2 491 585 Q496.4 585.2 495.6 592 Q494.8 588.4 491 588.2 Q487.2 588.4 486.3 592 Z" fill="#14100e"/>
<path d="M414.5 624.5 L426 622.5 L427 626 L415 627.5 Z" fill="#d9dde6" opacity="0.85"/><path d="M438 623.5 L447 625 L446 627.5 L437 626.5 Z" fill="#d9dde6" opacity="0.75"/>
<path d="M478 626 L490 623.4 L499 626.5 L486 629.5 Z" fill="#e6e9f0" opacity="0.9"/>
<ellipse cx="513" cy="624" rx="3" ry="2.6" fill="#1a1c24"/>
<path d="M405 626.4 L528.4 628 L528.4 634.4 L405 632.4 Z" fill="#3f1a1e"/>
<path d="M405 626.4 L528.4 628 L528.4 629.4 L405 627.8 Z" fill="#9a5a4a" opacity="0.7"/>
<path d="M405 632.4 L528.4 634.4 L528.4 649.4 L405 645.4 Z" fill="#163f8e"/>
<path d="M405 633.6 L528.4 635.8 L528.4 642.4 L405 639.8 Z" fill="#b9c8e4"/>
<path d="M405 639.8 L528.4 642.4 L528.4 649.4 L405 645.4 Z" fill="#1f7fae" opacity="0.9"/>
<path d="M449 634.6 L473 635 L472 641.6 L450 641.2 Z" fill="#173e90"/>
<path d="M426 633.6 L447 634 L447 640.2 L426 639.8 Z" fill="#f4f6fb"/><path d="M475 635 L500 635.4 L500 641.6 L475 641.2 Z" fill="#f4f6fb"/>
</g>
<rect x="427.5" y="635.5" width="18" height="2.4" fill="#1b3f8c"/><rect x="453.6" y="636.4" width="14.6" height="2.6" fill="#eef2fa"/><rect x="478.6" y="636.6" width="17" height="2.6" fill="#1b3f8c"/>
<rect x="429.6" y="630.2" width="5.6" height="1.6" fill="#eef2fa" opacity="0.9"/><rect x="486" y="631.4" width="7" height="1.6" fill="#eef2fa" opacity="0.9"/>
<rect x="411.8" y="581.8" width="9" height="2.8" fill="#f2f5fb" opacity="0.95"/><rect x="421.6" y="581.6" width="3" height="3" fill="none" stroke="#f2f5fb" stroke-width="0.6" opacity="0.9"/><rect x="414.6" y="586.4" width="4.8" height="1.8" fill="#f2f5fb" opacity="0.8"/>
</g>
</g>
<rect x="529.4" y="638.8" width="49.6" height="1.7" fill="#f39a33"/>
<path d="M554.2 642.2 L559.2 637.2" stroke="#3a3330" stroke-width="1.1"/>
<g>
<path d="M586.6 531.2 L604.8 531.2 L604.8 587.2 L586.6 582.6 Z" fill="#f4f5f4"/>
<path d="M604.8 531.2 L609.8 533.4 L609.8 583.6 L604.8 587.2 Z" fill="#e3e6e2"/>
<path d="M604.8 531.2 L609.8 533.4 L609.8 583.6 L604.8 587.2 Z" fill="none" stroke="#d0d3cf" stroke-width="0.4"/>
<path d="M587.5 532.1 L603.8 532.1 L603.8 585.4 L587.5 581.6 Z" fill="url(#spk)"/>
<path d="M586.6 582.6 L604.8 587.2 L609.8 583.6" fill="none" stroke="#c9ccc9" stroke-width="0.6"/>
</g>
<rect x="598.1" y="610.5" width="1.1" height="21.5" fill="#8fd39a"/>
<g>
<path d="M584 631.4 Q598 630 612 631.4 Q615.6 632 616.6 636 L617.2 646.6 Q617 649 614.6 649.4 L581.4 649.4 Q579 649 578.8 646.6 L579.6 636 Q580.4 632 584 631.4 Z" fill="#1c1c1e"/>
<path d="M579 646 L617 646 L616.4 653.6 Q616 655.6 613.6 655.6 L582.4 655.6 Q580 655.6 579.6 653.6 Z" fill="#0c0c0d"/>
<path d="M584 632.4 Q598 631 612 632.4" stroke="#3c3c40" stroke-width="0.8" fill="none"/>
<rect x="585" y="651.6" width="5.6" height="0.8" fill="#3a3a3e"/>
<rect x="595.4" y="650.2" width="1.4" height="2.6" fill="#b9babd"/>
<rect x="600.2" y="650.2" width="1.4" height="2.6" fill="#b9babd"/>
<rect x="605" y="650.2" width="1.4" height="2.6" fill="#b9babd"/>
</g>
</svg>
<div class="title" style="left:69.5px;top:7.8px">省局教改处</div>
<div class="title" style="left:451.6px;top:7.8px">监狱教改科</div>
<div class="title" style="left:40.5px;top:288.3px">录播室</div>
<div class="title" style="left:388px;top:288.3px">多媒体教室</div>
<div class="title" style="left:693px;top:288.3px">电脑教室</div>
<div class="title" style="left:40.5px;top:506.5px">监区办公室</div>
<div class="title" style="left:388px;top:506.5px">监区活动室、监仓</div>
<div class="title" style="left:693px;top:506.5px">监区网络学习室</div>
<div class="bartxt">现有局域网</div>
<div class="lbl" style="left:245px;top:187.6px">省局教改资源管理平台</div>
<div class="lbl" style="left:625px;top:187.6px">监狱电教平台</div>
<div class="lbl" style="left:152.3px;top:447.6px">电教平台客户端</div>
<div class="lbl" style="left:301.1px;top:447.6px">高清编码器</div>
<div class="lbl" style="left:515.7px;top:447.6px">宣教一体机</div>
<div class="lbl" style="left:776.6px;top:447.6px">自主学习终端</div>
<div class="lbl" style="left:192.1px;top:669px">电教平台客户端</div>
<div class="lbl" style="left:466.5px;top:669px">电视机</div>
<div class="lbl" style="left:597.6px;top:669px">多媒体控制盒</div>
<div class="lbl" style="left:776.6px;top:669px">自主学习终端</div>
<div class="lbl" style="left:598.2px;top:591px">有源音箱</div>
<div class="tag" style="left:291px;top:59.5px">资源共享</div>
<div class="tag" style="left:291px;top:89.4px">直播分发</div>
<div class="tag" style="left:291px;top:119.3px">教学统计</div>
<div class="tag" style="left:671px;top:59.5px">任务编排</div>
<div class="tag" style="left:671px;top:89.4px">资源管理</div>
<div class="tag" style="left:671px;top:119.3px">教学统计</div>
<div class="tag" style="left:179px;top:344.8px">资源录制</div>
<div class="tag" style="left:179px;top:374.4px">教学直播</div>
<div class="tag" style="left:222px;top:554.4px">任务管理</div>
<div class="tag" style="left:222px;top:584.15px">教学广播</div>
<div class="tag" style="left:222px;top:613.9px">设备管理</div>
<div class="vt" style="left:281px;top:329.4px">摄<br>像<br>机</div>
<div class="vt" style="left:311.4px;top:329.4px">话<br>筒</div>
<div class="hdmi">HDMI</div>
<div class="tvt" style="position:absolute;left:477.4px;top:333.6px;font-family:'Liberation Serif',serif;font-weight:bold;font-size:10px;line-height:13px;color:#d3222b;white-space:nowrap;letter-spacing:0.45px">国家定位 民生视角</div>
<div class="tvt" style="position:absolute;left:430.6px;top:329.2px;font-weight:bold;font-size:9px;line-height:9px;color:#f1eeeb;white-space:nowrap;letter-spacing:-0.6px;transform:skewX(-12deg) scaleX(0.95);transform-origin:0 100%;text-shadow:0 0 1px #7a1c1c">法治<br>中国说</div>
<div class="tvt" style="position:absolute;left:432px;top:348.6px;font-weight:bold;font-size:4.8px;line-height:6px;color:#f4f1ee;white-space:nowrap;letter-spacing:-0.1px">大检察官说</div>
<div class="tvt" style="position:absolute;left:487.5px;top:405.6px;font-weight:bold;font-size:5px;line-height:7px;color:#f3efe6;white-space:nowrap;letter-spacing:-0.2px">四位大检察官发表主题演讲</div>
<div class="tvt" style="position:absolute;left:478px;top:412.4px;font-weight:bold;font-size:5.4px;line-height:7px;color:#d3222b;white-space:nowrap;letter-spacing:0.2px">说法治中国故事<span style="margin-left:6px">谈中国法治进步</span></div>
</body>
</html>
